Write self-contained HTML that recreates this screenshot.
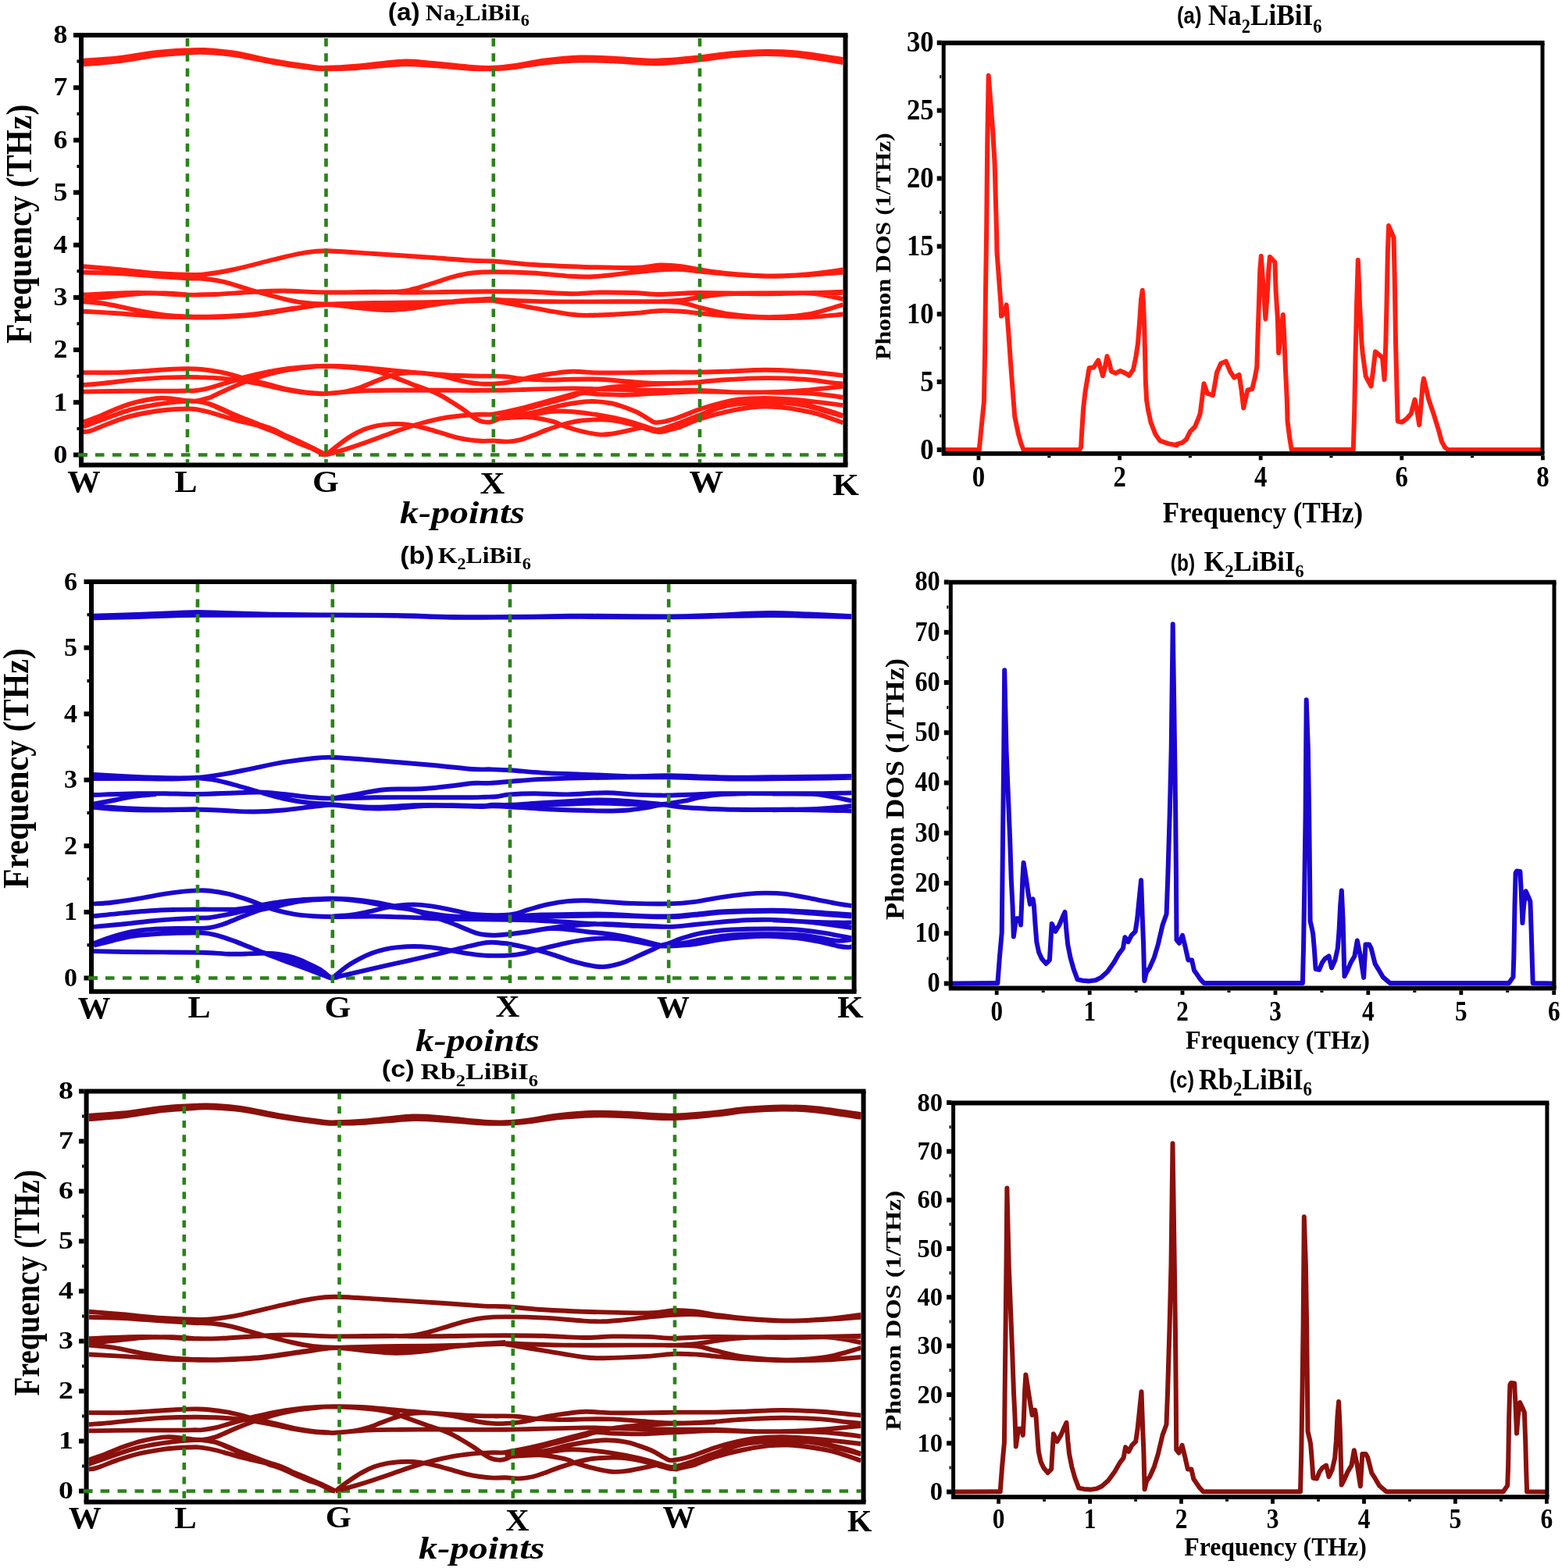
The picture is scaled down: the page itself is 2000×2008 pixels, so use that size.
<!DOCTYPE html>
<html lang="en"><head><meta charset="utf-8"><title>Phonon dispersion and DOS</title>
<style>html,body{margin:0;padding:0;background:#fff}svg{display:block}</style></head>
<body>
<svg xmlns="http://www.w3.org/2000/svg" width="2000" height="2008" viewBox="0 0 2000 2008">
<rect width="2000" height="2008" fill="#fff"/>
<clipPath id="c1"><rect x="107" y="48" width="972.5" height="544.4"/></clipPath>
<path d="M100 582.5H1079.5" stroke="#2a8318" stroke-width="4.6" stroke-dasharray="11.5 10.5" stroke-dashoffset="0" fill="none"/>
<path d="M107 77.6C114.2 77.1 134.5 76.1 150 74.4C165.5 72.6 185 68.8 200 67.2C215 65.5 229.7 64.9 240 64.4C250.3 63.9 252 63.5 262 64C272 64.6 285.3 65.4 300 67.7C314.7 70 333.3 75 350 78C366.7 81 388.8 84.2 400 85.7C411.2 87.2 408.3 86.9 417.5 86.8C426.7 86.7 438.8 86.2 455 84.8C471.2 83.5 498.3 79.2 515 78.6C531.7 78 540 79.8 555 81C570 82.2 592.2 85.1 605 86C617.8 87 622.6 87.1 631.8 86.8C640.9 86.5 649 85.5 660 84C671 82.4 683.8 79.3 697.5 77.5C711.2 75.8 727.9 74 742.5 73.5C757.1 73 768.8 73.9 785 74.6C801.2 75.3 821.5 77.9 840 77.7C858.5 77.5 880.2 75 896 73.4C911.8 71.9 921 69.7 935 68.4C949 67.2 965.4 66 980 65.9C994.6 65.8 1005.9 66 1022.5 67.7C1039.1 69.4 1070 74.6 1079.5 76M107 82.4C114.2 81.8 134.5 80.6 150 78.6C165.5 76.7 185 72.7 200 70.8C215 69 229.7 68.2 240 67.6C250.3 67 252 66.5 262 67C272 67.4 285.3 68.1 300 70.3C314.7 72.5 333.3 77.2 350 80C366.7 82.9 388.8 85.9 400 87.3C411.2 88.6 408.3 88.2 417.5 88.2C426.7 88.2 438.8 88.1 455 87.2C471.2 86.2 498.3 82.9 515 82.4C531.7 81.9 540 83.1 555 84C570 84.9 592.2 87.3 605 88C617.8 88.7 622.6 88.5 631.8 88.2C640.9 87.9 649 87.3 660 86C671 84.7 683.8 81.9 697.5 80.5C711.2 79.1 727.9 77.8 742.5 77.5C757.1 77.2 768.8 77.8 785 78.4C801.2 79 821.5 81.6 840 81.3C858.5 81 880.2 78.2 896 76.6C911.8 75 921 72.8 935 71.6C949 70.3 965.4 69.2 980 69.1C994.6 69 1005.9 69.5 1022.5 71.3C1039.1 73.1 1070 78.5 1079.5 80M107 80C114.2 79.4 134.5 78.3 150 76.5C165.5 74.7 185 70.8 200 69C215 67.2 229.7 66.6 240 66C250.3 65.4 252 65 262 65.5C272 66 285.3 66.8 300 69C314.7 71.2 333.3 76.1 350 79C366.7 81.9 388.8 85.1 400 86.5C411.2 87.9 408.3 87.6 417.5 87.5C426.7 87.4 438.8 87.2 455 86C471.2 84.8 498.3 81.1 515 80.5C531.7 79.9 540 81.4 555 82.5C570 83.6 592.2 86.2 605 87C617.8 87.8 622.6 87.8 631.8 87.5C640.9 87.2 649 86.4 660 85C671 83.6 683.8 80.6 697.5 79C711.2 77.4 727.9 75.9 742.5 75.5C757.1 75.1 768.8 75.8 785 76.5C801.2 77.2 821.5 79.8 840 79.5C858.5 79.2 880.2 76.6 896 75C911.8 73.4 921 71.2 935 70C949 68.8 965.4 67.6 980 67.5C994.6 67.4 1005.9 67.8 1022.5 69.5C1039.1 71.2 1070 76.6 1079.5 78M107 341.2C114.2 341.9 134.5 343.5 150 345C165.5 346.5 185 348.9 200 350C215 351.1 229.6 351.5 240 351.8C250.4 352 252.5 352.4 262.5 351.2C272.5 350.1 285.4 348.1 300 345C314.6 341.9 335.4 336 350 332.5C364.6 329 376.2 326.1 387.5 324.2C398.8 322.4 402.1 321.1 417.5 321.2C432.9 321.4 457.1 323.5 480 325C502.9 326.5 534.2 328.5 555 330C575.8 331.5 592.2 333 605 333.8C617.8 334.5 619.2 333.7 631.8 334.5C644.2 335.3 663.6 337.6 680 338.8C696.4 339.9 708.2 340.5 730 341.2C751.8 342 791.8 343.3 811 343C830.2 342.7 834.8 339.8 845 339.5C855.2 339.2 864 340.2 872.5 341.2C881 342.2 885.8 344 896.2 345.5C906.7 347 920.2 349.2 935 350.5C949.8 351.8 968.3 353.4 985 353.5C1001.7 353.6 1019.2 352.6 1035 351.2C1050.8 349.9 1072.1 346.5 1079.5 345.5M107 348.8C114.2 349 134.5 349.2 150 350C165.5 350.8 185 352.7 200 353.8C215 354.8 229.6 355.7 240 356.2C250.4 356.8 254.6 356.2 262.5 357C270.4 357.8 277.1 358.7 287.5 361.2C297.9 363.8 312.5 369 325 372.5C337.5 376 352.1 380 362.5 382.5C372.9 385 378.3 386.3 387.5 387.5C396.7 388.7 402.1 389.4 417.5 389.5C432.9 389.6 457.1 388.4 480 388C502.9 387.6 529.7 387.6 555 387C580.3 386.4 619 384.9 631.8 384.5M107 377.5C118.3 377.1 152.8 375 175 375C197.2 375 223.3 377.2 240 377.5C256.7 377.8 260.8 377.6 275 377C289.2 376.4 310.4 374.5 325 373.8C339.6 373 347.1 372.4 362.5 372.5C377.9 372.6 397.9 374.3 417.5 374.5C437.1 374.7 461.2 373.8 480 373.8C498.8 373.8 513.3 374.5 530 374.5C546.7 374.5 563 374 580 373.8C597 373.5 615.1 373.2 631.8 373.2C648.4 373.2 663.6 373.2 680 373.8C696.4 374.2 715.4 376.1 730 376.2C744.6 376.4 754 374.7 767.5 374.5C781 374.3 798.1 374.6 811 375C823.9 375.4 830.8 377 845 377C859.2 377 872.9 375.1 896.2 375C919.6 374.9 954.5 376.5 985 376.2C1015.5 376 1063.8 374.2 1079.5 373.8M107 383.8C112.1 383.2 126.2 381.8 137.5 380.5C148.8 379.2 162.5 377.1 175 376.2C187.5 375.4 201.7 375.3 212.5 375.5C223.3 375.7 235.4 377.2 240 377.5M107 386.2C112.1 386.8 126.2 387.6 137.5 389.5C148.8 391.4 162.5 395.1 175 397.5C187.5 399.9 201.7 402.4 212.5 403.8C223.3 405.1 229.6 405.2 240 405.5C250.4 405.8 260.8 406 275 405.5C289.2 405 308.3 404.2 325 402.5C341.7 400.8 359.6 397.1 375 395C390.4 392.9 404.2 390.2 417.5 390C430.8 389.8 442.5 392.6 455 393.8C467.5 394.9 480 396.9 492.5 397C505 397.1 515.4 396.3 530 394.5C544.6 392.7 563 388.2 580 386.2C597 384.2 623.1 383.1 631.8 382.5M107 398.8C114.2 399.2 134.5 400.2 150 401.2C165.5 402.3 185 404.2 200 405C215 405.8 227.5 406 240 406.2C252.5 406.5 260.8 406.8 275 406.2C289.2 405.8 308.3 405 325 403.2C341.7 401.5 359.6 398 375 395.8C390.4 393.5 402.1 390.6 417.5 390C432.9 389.4 452.9 391.5 467.5 392C482.1 392.5 492.5 393.2 505 393C517.5 392.8 530 391.5 542.5 390.5C555 389.5 565.1 388.1 580 387C594.9 385.9 623.1 384.3 631.8 383.8M417.5 374.5C432.1 374.4 486.2 374.5 505 373.8C523.8 373 521.7 371.9 530 370C538.3 368.1 546.7 365.1 555 362.5C563.3 359.9 571.7 356.7 580 354.5C588.3 352.3 596.4 350.5 605 349.5C613.6 348.5 619.2 348.2 631.8 348.2C644.2 348.2 663.6 348.6 680 349.5C696.4 350.4 717.5 352.9 730 353.8C742.5 354.6 746.7 354.7 755 354.5C763.3 354.3 770.7 353.5 780 352.5C789.3 351.5 800.2 349.9 811 348.8C821.8 347.6 834.8 346.1 845 345.5C855.2 344.9 864 344.7 872.5 345C881 345.3 885.8 346.5 896.2 347.5C906.7 348.5 920.2 350.2 935 351.2C949.8 352.3 968.3 353.6 985 353.8C1001.7 353.9 1019.2 352.8 1035 352C1050.8 351.2 1072.1 349.3 1079.5 348.8M631.8 383.8C644 384.2 675.1 385.8 705 386.2C734.9 386.7 787.7 386.2 811 386.2C834.3 386.2 834.8 386.5 845 386.2C855.2 386 864 385.5 872.5 384.5C881 383.5 887.9 381.8 896.2 380.5C904.6 379.2 911.9 377.8 922.5 377C933.1 376.2 933.8 375.8 960 375.5C986.2 375.2 1059.6 375.1 1079.5 375M631.8 385C639.8 386.5 663.6 390.8 680 393.8C696.4 396.7 717.5 400.8 730 402.5C742.5 404.2 741.5 404 755 403.8C768.5 403.5 796 402.2 811 401.2C826 400.3 834.8 398.4 845 398C855.2 397.6 864 398.2 872.5 398.8C881 399.3 885.8 400.2 896.2 401.2C906.7 402.3 920.2 404 935 405C949.8 406 968.3 406.8 985 407C1001.7 407.2 1019.2 407 1035 406.2C1050.8 405.5 1072.1 403.1 1079.5 402.5M845 386.2C849.6 386.5 864 386.2 872.5 387.5C881 388.8 885.8 391.2 896.2 393.8C906.7 396.2 920.2 400.4 935 402.5C949.8 404.6 968.3 406.2 985 406.2C1001.7 406.2 1019.2 405.2 1035 402.5C1050.8 399.8 1072.1 392.1 1079.5 390M985 376.2C993.3 376.1 1022.5 375.1 1035 375.5C1047.5 375.9 1052.6 377.5 1060 378.8C1067.4 380 1076.2 382.3 1079.5 383M106.7 477.1C113.9 477.1 137.1 477.4 149.9 477.1C162.6 476.8 172.1 476 183.2 475.3C194.2 474.6 206.9 473.5 216.4 473C225.9 472.4 233.3 472.1 240.2 472.1C247.1 472.1 250.9 472.2 258 473C265.1 473.7 276 475.3 283 476.6C289.9 477.9 294 479.2 299.6 480.8C305.1 482.3 309.3 484 316.2 485.8C323.1 487.6 332.8 489.5 341.2 491.6C349.5 493.7 357.8 496.4 366.1 498.2C374.4 500 384.1 501.5 391.1 502.4C398 503.3 403.2 503.3 407.7 503.6C412.1 503.8 409.4 504.5 417.8 504.1C426.2 503.6 444.5 501.4 458.2 500.7C471.9 500 484.5 500.1 499.8 499.9C515 499.7 535.8 499.6 549.7 499.6C563.5 499.6 569.3 499.8 583 499.9C596.6 500 617.8 500 631.7 499.9C645.5 499.8 649.2 499.5 666.1 499.1C683 498.6 716.4 497.5 733.1 497.4C749.8 497.3 755.2 498 766.3 498.2C777.4 498.5 785.7 498.8 799.6 499.1C813.4 499.3 833.4 499.8 849.5 499.9C865.6 500 879.9 499.5 896 499.9C912.2 500.3 929.6 502.1 946.3 502.4C963 502.7 982.4 502.3 996.2 501.9C1010.1 501.5 1018.4 500.8 1029.5 499.9C1040.6 499 1054.4 497.4 1062.7 496.6C1071.1 495.7 1076.6 495.2 1079.4 494.9M106.7 492.9C111.1 492.6 123.3 491.7 133.3 490.7C143.2 489.8 155.4 488 166.5 486.9C177.6 485.8 187.5 484.8 199.8 484.1C212.1 483.4 229.1 483 240.2 482.9C251.3 482.8 259.2 483.3 266.3 483.6C273.4 483.9 277.4 484.2 283 484.6C288.5 485 294 485.6 299.6 486.3C305.1 486.9 309.3 487.4 316.2 488.6C323.1 489.8 332.8 491.8 341.2 493.6C349.5 495.3 357.8 497.5 366.1 499.1C374.4 500.6 384.1 502.1 391.1 502.9C398 503.7 403.2 503.9 407.7 504.1C412.1 504.2 412.1 504.5 417.8 504.1C423.4 503.6 434.8 502.7 441.6 501.6C448.3 500.5 452.7 499.2 458.2 497.4C463.8 495.6 469.3 493 474.8 490.7C480.4 488.5 485.9 486 491.5 484.1C497 482.2 502.6 480.2 508.1 479.1C513.7 478 519.2 477.6 524.7 477.4C530.3 477.2 534.4 477.2 541.4 477.9C548.3 478.6 559.4 480.3 566.3 481.6C573.3 482.9 577.4 484.4 583 485.8C588.5 487.1 594 488.6 599.6 489.6C605.1 490.6 610.9 491.2 616.2 491.6C621.6 491.9 626.1 491.9 631.7 491.6C637.2 491.3 643.7 490.7 649.5 489.9C655.2 489.1 660.6 487.8 666.1 486.6C671.7 485.3 675.7 483.8 682.7 482.4C689.7 481 699.7 479.4 708.1 478.3C716.5 477.2 723.4 475.9 733.1 475.8C742.8 475.6 755.2 477.2 766.3 477.4C777.4 477.7 785.7 477.6 799.6 477.4C813.4 477.3 833.4 476.7 849.5 476.6C865.6 476.5 882.7 476.7 896 476.6C909.4 476.5 915.8 476.3 929.7 475.8C943.6 475.3 963 473.8 979.6 473.8C996.2 473.8 1012.8 474.6 1029.5 475.8C1046.1 476.9 1071.1 479.9 1079.4 480.8M106.7 501.6C116.6 501.4 148.2 500.9 166.5 500.7C184.8 500.6 204.1 500.8 216.4 500.7C228.7 500.7 234.7 500.5 240.2 500.4C245.8 500.3 245.3 500.7 249.7 500.2C254 499.7 260.8 498.7 266.3 497.4C271.9 496.1 277.4 494.1 283 492.4C288.5 490.7 294 489.1 299.6 487.4C305.1 485.8 309.3 484.2 316.2 482.4C323.1 480.6 332.8 478.3 341.2 476.6C349.5 474.9 357.8 473.6 366.1 472.5C374.4 471.3 382.4 470.6 391.1 470C399.7 469.3 408 468.8 417.8 468.8C427.6 468.7 439 469 449.9 469.6C460.8 470.2 472.1 471.4 483.2 472.5C494.2 473.5 505.3 474.8 516.4 475.8C527.5 476.8 538.6 477.8 549.7 478.6C560.8 479.4 571.9 480.3 583 480.8C594 481.3 608.1 481.5 616.2 481.6C624.3 481.7 626.1 481.5 631.7 481.6C637.2 481.7 643.7 481.9 649.5 482.4C655.3 483 658.1 484.2 666.5 484.9C674.9 485.6 688.7 486.5 699.8 486.6C710.9 486.7 722 485.9 733.1 485.8C744.1 485.6 755.2 485.3 766.3 485.8C777.4 486.2 788.5 487.4 799.6 488.3C810.7 489.1 821.8 490.3 832.8 490.7C843.9 491.2 855.6 491 866.1 490.7C876.6 490.5 885.5 489.8 896 489.1C906.6 488.3 915.8 487.1 929.7 486.3C943.6 485.4 963 484.2 979.6 484.1C996.2 484 1015.6 484.8 1029.5 485.8C1043.3 486.7 1054.4 488.9 1062.7 489.9C1071.1 490.9 1076.6 491.3 1079.4 491.6M106.7 540.6C109.7 539.5 117.7 536.9 124.9 534C132.2 531.1 141.6 526.4 149.9 523.2C158.2 520 166.5 517 174.8 514.9C183.2 512.7 192.9 511 199.8 510.2C206.7 509.4 209.7 509.7 216.4 510.2C223.2 510.7 234.7 512.6 240.2 513.2C245.8 513.8 245.3 514.3 249.7 513.7C254 513.1 260.8 511.8 266.3 509.9C271.9 508 277.4 504.9 283 502.4C288.5 499.9 294 497.3 299.6 494.9C305.1 492.6 309.3 490.7 316.2 488.3C323.1 485.8 332.8 482.3 341.2 479.9C349.5 477.6 357.8 475.6 366.1 474.1C374.4 472.6 382.4 471.7 391.1 470.8C399.7 469.9 405.2 468.5 417.8 468.8C430.4 469.1 455.1 471.2 466.5 472.5C478 473.8 480.4 474.9 486.5 476.6C492.6 478.3 495.4 479.5 503.1 482.4C510.9 485.3 523.9 490.6 533.1 494.1C542.2 497.5 551.1 500.2 558 503.2C564.9 506.3 569.1 509 574.6 512.4C580.2 515.7 586.3 519.7 591.3 523.2C596.3 526.6 600.7 530.5 604.6 533.2C608.5 535.8 611.5 537.7 614.6 539C617.6 540.2 620 540.6 622.9 540.6C625.7 540.7 627.2 541.1 631.7 539.5C636.2 537.8 644.1 533 649.9 530.7C655.7 528.4 658.2 528 666.5 525.7C674.8 523.3 688.7 519.6 699.8 516.5C710.9 513.5 725.3 509.6 733.1 507.4C740.8 505.2 740.8 503.6 746.4 503.2C751.9 502.8 757.4 504.5 766.3 504.9C775.2 505.3 788.5 505.9 799.6 505.7C810.7 505.6 821.8 504.6 832.8 504.1C843.9 503.5 855.6 502.9 866.1 502.4C876.6 501.9 882.7 501.2 896 501.2C909.4 501.2 932.4 502.2 946.3 502.4C960.2 502.6 965.7 502.3 979.6 502.4C993.4 502.5 1015.6 502.5 1029.5 503.2C1043.3 503.9 1054.4 505.6 1062.7 506.5C1071.1 507.5 1076.6 508.6 1079.4 509M106.7 546.5C111.1 544.8 123.3 540.1 133.3 536.5C143.2 532.9 155.4 527.9 166.5 524.8C177.6 521.8 190.1 519.9 199.8 518.2C209.5 516.5 218 515.6 224.7 514.9C231.5 514.1 236 513.9 240.2 513.7C244.4 513.5 245.3 513.2 249.7 513.7C254 514.2 260.8 514.9 266.3 516.5C271.9 518.1 277.4 520.8 283 523.2C288.5 525.5 294 528.3 299.6 530.7C305.1 533 310.7 535.1 316.2 537.3C321.8 539.5 327.3 541.9 332.8 544C338.4 546 343.9 547.4 349.5 549.8C355 552.1 360.6 555.3 366.1 558.1C371.7 560.9 377.2 563.8 382.7 566.4C388.3 569.1 394.4 571.4 399.4 573.9C404.4 576.4 409.7 580 412.7 581.4C415.7 582.8 416.7 582.3 417.5 582.5M417.5 582.5C420.1 580.4 427.9 573.8 433.3 569.8C438.7 565.7 444.4 561.4 449.9 558.1C455.4 554.8 461 552 466.5 549.8C472.1 547.6 477.6 546.2 483.2 545.1C488.7 544 494.2 543.5 499.8 543.1C505.3 542.8 510.9 542.7 516.4 543.1C522 543.6 527.5 544.5 533.1 545.6C538.6 546.7 544.1 548.3 549.7 549.8C555.2 551.3 560.8 553.1 566.3 554.8C571.9 556.4 577.4 558.4 583 559.8C588.5 561.2 594 562.3 599.6 563.1C605.1 563.9 610.9 564.5 616.2 564.8C621.6 565 626.1 564.3 631.7 564.4C637.3 564.6 644.1 565.8 649.9 565.6C655.7 565.4 661 564.5 666.5 563.1C672.1 561.7 677.6 559.4 683.2 557.3C688.7 555.2 693.7 552.8 699.8 550.6C705.9 548.4 712.8 545.9 719.8 544C726.7 542 733.6 540.1 741.4 539C749.1 537.9 759.4 537.5 766.3 537.3C773.3 537.2 776 537.2 783 538.1C789.9 539.1 801 541.5 807.9 543.1C814.8 544.8 819.5 546.6 824.5 548.1C829.5 549.7 834.2 551.7 837.8 552.3C841.4 552.8 841.4 553 846.2 551.5C850.9 549.9 857.8 546.5 866.1 543.1C874.4 539.8 885.5 535.7 896 531.5C906.6 527.3 918.5 521.1 929.7 518.2C940.8 515.3 951.9 514.7 963 514C974 513.3 985.1 513.3 996.2 514C1007.3 514.7 1018.4 516.1 1029.5 518.2C1040.6 520.3 1054.4 524.2 1062.7 526.5C1071.1 528.9 1076.6 531.4 1079.4 532.3M106.7 553.1C108.3 552.8 110.8 553.4 116.6 551.5C122.5 549.5 133.3 544.5 141.6 541.5C149.9 538.4 156.8 535.7 166.5 533.2C176.2 530.7 190.1 528 199.8 526.5C209.5 525 218 524.5 224.7 524C231.5 523.5 236 523.5 240.2 523.5C244.4 523.5 245.3 523.4 249.7 524C254 524.7 260.8 526 266.3 527.3C271.9 528.7 277.4 530.7 283 532.3C288.5 534 294 535.8 299.6 537.3C305.1 538.8 310.7 540.1 316.2 541.5C321.8 542.9 327.3 544 332.8 545.6C338.4 547.3 342.6 548.8 349.5 551.5C356.4 554.1 366.1 557.8 374.4 561.4C382.7 565 392.2 569.6 399.4 573.1C406.6 576.6 414.5 580.9 417.5 582.5M417.5 582.5C421.5 581.3 433.4 578.1 441.6 575.6C449.8 573 458.2 570.2 466.5 567.3C474.8 564.3 483.2 561.2 491.5 558.1C499.8 555.1 508.1 551.7 516.4 549C524.7 546.2 533.1 543.7 541.4 541.5C549.7 539.3 559.4 537 566.3 535.7C573.3 534.3 577.4 533.9 583 533.2C588.5 532.5 594 531.9 599.6 531.5C605.1 531.1 610.9 530.9 616.2 530.7C621.6 530.5 623.3 531.6 631.7 530.3C640.1 529.1 655.2 525.9 666.5 523.2C677.9 520.5 688.7 517.1 699.8 514C710.9 511 724.7 507.1 733.1 504.9C741.4 502.7 744.1 501.8 749.7 500.7C755.2 499.6 760.8 499.1 766.3 498.2C771.9 497.4 774.6 496.6 783 495.7C791.3 494.9 805.1 493.9 816.2 493.2C827.3 492.6 836.2 492.1 849.5 491.6C862.8 491 888.3 490.2 896 489.9M631.6 537.3C634.7 536.8 641.3 535.5 649.9 534C658.5 532.5 673.5 530.2 683.2 528.2C692.9 526.1 699.8 523.5 708.1 521.5C716.4 519.6 724.7 517.8 733.1 516.5C741.4 515.3 749.7 514 758 514C766.3 514 776 515.3 783 516.5C789.9 517.8 794 519.6 799.6 521.5C805.1 523.5 810.7 525.4 816.2 528.2C821.8 530.9 828.7 536 832.8 538.1C837 540.3 836.1 541.4 841.2 541.1C846.2 540.9 854 539.3 863.2 536.5C872.3 533.6 886.4 527.3 896.1 524C905.8 520.7 913 518.6 921.4 516.5C929.7 514.4 936.6 512.6 946.3 511.5C956 510.4 968.5 509.9 979.6 509.9C990.7 509.9 1001.8 510.7 1012.8 511.5C1023.9 512.4 1035 513.6 1046.1 514.9C1057.2 516.1 1073.8 518.3 1079.4 519M631.6 536.5C638.8 535.7 662.1 533.1 674.8 531.5C687.6 529.9 698.4 527.5 708.1 526.8C717.8 526.1 723.4 526.6 733.1 527.3C742.8 528.1 755.2 529.7 766.3 531.5C777.4 533.3 789.9 535.8 799.6 538.1C809.3 540.5 818.2 543.7 824.5 545.6C830.9 547.6 834.2 549.1 837.8 549.8C841.4 550.5 841.4 550.9 846.2 549.8C850.9 548.7 857.8 546.2 866.1 543.1C874.4 540.1 885.5 535.4 896 531.5C906.6 527.6 918.5 522.5 929.7 519.9C940.8 517.2 951.9 516.5 963 515.7C974 514.9 985.1 514.6 996.2 515.2C1007.3 515.8 1018.4 516.9 1029.5 519C1040.6 521.2 1054.4 525.8 1062.7 528.2C1071.1 530.5 1076.6 532.3 1079.4 533.2M631.6 536.5C638.8 536.1 662.1 533.4 674.8 534C687.6 534.5 700.6 538 708.1 539.8C715.6 541.6 714.2 542.9 719.8 544.8C725.3 546.7 733.6 549.5 741.4 551.5C749.1 553.4 759.4 555.8 766.3 556.4C773.3 557.1 776 556.6 783 555.6C789.9 554.6 801 552 807.9 550.6C814.8 549.2 819.5 547.2 824.5 547.3C829.5 547.4 834.2 550.5 837.8 551.5C841.5 552.4 841.8 553.7 846.5 553.1C851.2 552.6 862 549.2 866.1 548.1C870.3 547 866.5 548.4 871.5 546.5C876.5 544.5 886.4 539.7 896.1 536.5C905.8 533.3 918.5 529.8 929.7 527.3C940.8 524.8 953.3 522.6 963 521.5C972.7 520.4 979.6 520.4 987.9 520.7C996.2 521 1003.1 521.7 1012.8 523.2C1022.6 524.7 1035 526.8 1046.1 529.8C1057.2 532.9 1073.8 539.5 1079.4 541.5M249.7 513.7C252.5 514.2 260.8 515.1 266.3 516.9C271.9 518.6 277.4 521.5 283 524C288.5 526.5 294 529.3 299.6 531.8C305.1 534.3 310.7 536.6 316.2 539C321.8 541.4 327.3 543.9 332.8 546.1C338.4 548.4 343.9 550 349.5 552.3C355 554.6 360.6 557.5 366.1 560.1C371.7 562.7 377.2 565.4 382.7 567.8C388.3 570.1 394.4 572.1 399.4 574.4C404.4 576.7 409.7 580 412.7 581.4C415.7 582.7 416.7 582.3 417.5 582.5" stroke="#ff1d10" stroke-width="5.9" fill="none" stroke-linejoin="round" stroke-linecap="butt" clip-path="url(#c1)"/>
<path d="M240 48V592.4" stroke="#2a8318" stroke-width="4.6" stroke-dasharray="10.5 8.75" stroke-dashoffset="-1" fill="none"/>
<path d="M417.5 48V592.4" stroke="#2a8318" stroke-width="4.6" stroke-dasharray="10.5 8.75" stroke-dashoffset="-1" fill="none"/>
<path d="M631.8 48V592.4" stroke="#2a8318" stroke-width="4.6" stroke-dasharray="10.5 8.75" stroke-dashoffset="-1" fill="none"/>
<path d="M896 48V592.4" stroke="#2a8318" stroke-width="4.6" stroke-dasharray="10.5 8.75" stroke-dashoffset="-1" fill="none"/>
<path d="M101 45H1085.5M101 595.4H1085.5" fill="none" stroke="#000" stroke-width="6"/>
<path d="M104 45V595.4M1082.5 45V595.4" fill="none" stroke="#000" stroke-width="6"/>
<path d="M94 582.5H101M94 515.3H101M94 448.1H101M94 380.9H101M94 313.7H101M94 246.6H101M94 179.4H101M94 112.2H101M94 45H101" stroke="#000" stroke-width="6" fill="none"/>
<path d="M98.5 548.9H101M98.5 481.7H101M98.5 414.5H101M98.5 347.3H101M98.5 280.1H101M98.5 213H101M98.5 145.8H101M98.5 78.6H101" stroke="#000" stroke-width="4" fill="none"/>
<path d="M100 582.5H112" stroke="#2a8318" stroke-width="4.6" fill="none"/>
<text transform="translate(86.3 592.7) scale(1.085 1.000)" font-family="'Liberation Serif', 'DejaVu Serif', serif" font-size="33" font-weight="bold" text-anchor="end" fill="#000">0</text>
<text transform="translate(86.3 525.5) scale(1.085 1.000)" font-family="'Liberation Serif', 'DejaVu Serif', serif" font-size="33" font-weight="bold" text-anchor="end" fill="#000">1</text>
<text transform="translate(86.3 458.3) scale(1.085 1.000)" font-family="'Liberation Serif', 'DejaVu Serif', serif" font-size="33" font-weight="bold" text-anchor="end" fill="#000">2</text>
<text transform="translate(86.3 391.1) scale(1.085 1.000)" font-family="'Liberation Serif', 'DejaVu Serif', serif" font-size="33" font-weight="bold" text-anchor="end" fill="#000">3</text>
<text transform="translate(86.3 323.9) scale(1.085 1.000)" font-family="'Liberation Serif', 'DejaVu Serif', serif" font-size="33" font-weight="bold" text-anchor="end" fill="#000">4</text>
<text transform="translate(86.3 256.7) scale(1.085 1.000)" font-family="'Liberation Serif', 'DejaVu Serif', serif" font-size="33" font-weight="bold" text-anchor="end" fill="#000">5</text>
<text transform="translate(86.3 189.5) scale(1.085 1.000)" font-family="'Liberation Serif', 'DejaVu Serif', serif" font-size="33" font-weight="bold" text-anchor="end" fill="#000">6</text>
<text transform="translate(86.3 122.3) scale(1.085 1.000)" font-family="'Liberation Serif', 'DejaVu Serif', serif" font-size="33" font-weight="bold" text-anchor="end" fill="#000">7</text>
<text transform="translate(86.3 55.1) scale(1.085 1.000)" font-family="'Liberation Serif', 'DejaVu Serif', serif" font-size="33" font-weight="bold" text-anchor="end" fill="#000">8</text>
<text id="ylab1" transform="translate(40.4 440) rotate(-90) scale(0.9039 1.0000)" font-family="'Liberation Serif', 'DejaVu Serif', serif" font-size="46.2" font-weight="bold" fill="#000">Frequency (THz)</text>
<text transform="translate(107.5 630) scale(1.050 1.000)" font-family="'Liberation Serif', 'DejaVu Serif', serif" font-size="40.4" font-weight="bold" text-anchor="middle" fill="#000">W</text>
<text transform="translate(238 629.5) scale(1.080 1.000)" font-family="'Liberation Serif', 'DejaVu Serif', serif" font-size="40.4" font-weight="bold" text-anchor="middle" fill="#000">L</text>
<text transform="translate(417 629.5) scale(1.080 1.000)" font-family="'Liberation Serif', 'DejaVu Serif', serif" font-size="40.4" font-weight="bold" text-anchor="middle" fill="#000">G</text>
<text transform="translate(630.4 632.2) scale(1.080 1.000)" font-family="'Liberation Serif', 'DejaVu Serif', serif" font-size="40.8" font-weight="bold" text-anchor="middle" fill="#000">X</text>
<text transform="translate(904.4 629.5) scale(1.080 1.000)" font-family="'Liberation Serif', 'DejaVu Serif', serif" font-size="40.4" font-weight="bold" text-anchor="middle" fill="#000">W</text>
<text transform="translate(1083 633.5) scale(1.080 1.000)" font-family="'Liberation Serif', 'DejaVu Serif', serif" font-size="40.4" font-weight="bold" text-anchor="middle" fill="#000">K</text>
<text id="kp1" transform="translate(512 670.2) scale(1.1704 1.0000)" font-family="'Liberation Serif', 'DejaVu Serif', serif" font-size="41" font-weight="bold" font-style="italic" fill="#000">k-points</text>
<text id="ta1" transform="translate(496.8 26) scale(1.0432 1.0000)" font-family="'Liberation Sans', 'DejaVu Sans', sans-serif" font-size="32" font-weight="bold" fill="#000">(a)</text>
<text id="tf1" transform="translate(544.8 25.6) scale(1.0743 1.0000)" font-family="'Liberation Serif', 'DejaVu Serif', serif" font-size="29.5" font-weight="bold" fill="#000">Na<tspan font-size="20.6" dy="7.4">2</tspan><tspan font-size="29.5" dy="-7.4">LiBiI</tspan><tspan font-size="20.6" dy="7.4">6</tspan></text>
<path d="M1208.4 576L1253.7 576.1L1257.7 536.2L1259.9 514.5L1261 456.3L1262 373.2L1263.2 290L1264.2 184.7L1265.7 96.8L1271.1 166L1273.6 209.7L1276.1 300L1276.5 323.3L1279 356.5L1281.5 389.8L1282 404.8L1285.2 401.8L1288.6 390.3L1289.8 406.4L1292.3 439.7L1294 464.6L1296.5 497.9L1299.3 533.7L1304 556.1L1307.3 567.8L1310.6 576.1L1382.1 576.1L1384.1 572.7L1385.4 549.5L1387.1 522.8L1389.6 501.2L1392.1 486.3L1394.6 471.3L1400.4 470.5L1406.2 461.3L1408.7 469.6L1412.1 481.3L1414.6 471.3L1417.5 456.3L1420.4 464.6L1422.9 475.4L1428.7 477.9L1434.5 474.9L1441.2 477.9L1445.8 480.9L1451.1 473L1454.5 456.3L1457 439.7L1459.5 406.4L1461.1 383.1L1462.8 371.8L1464.1 389.8L1465.3 423.1L1466.1 456.3L1466.9 489.6L1468.1 512.5L1470.3 526.2L1473.6 541.1L1479.4 556.1L1485.2 564.4L1496 568.1L1506.9 570.2L1506.8 568.9L1513.7 566.9L1518.8 562.9L1523.9 552.7L1529.9 546.7L1534.2 536.5L1536.7 529.6L1539.3 509.1L1541.5 491.2L1546.1 504L1553 506.2L1555.5 492L1558.1 476.7L1563.2 465.6L1569.7 462.7L1575.2 475.8L1580.3 483.5L1586.6 479.8L1589.7 500.6L1592.2 522.5L1597.4 499.7L1603.3 498L1606.8 483.5L1609.3 469.8L1610.7 423.7L1611.9 389.6L1613.2 346.9L1614.8 328.1L1617.9 372.5L1620.4 408.4L1623 372.5L1624.3 346.9L1625.9 328.9L1632.4 335.8L1633.6 372.5L1635.8 406.6L1637.2 451.9L1640.1 423.7L1642.8 402.9L1644.3 432.3L1646 475L1647.7 509.1L1648.6 539.9L1651.2 560.4L1653.7 575.7L1732.8 575.7L1734.2 526.2L1735.5 457.9L1737.1 389.6L1738.8 332.9L1741 389.6L1743.6 440.8L1744.8 452.8L1748.7 481.8L1755.5 494.6L1758.1 475L1761 450.2L1770 457.9L1772.6 486.1L1774.3 440.8L1775.5 389.6L1776.9 321.2L1778.1 289.1L1784.5 304.2L1785.7 355.4L1787.1 440.8L1788.8 509.1L1789.7 539.5L1794.8 540.7L1800.8 536.5L1806.8 529.6L1811.5 511.7L1814.4 526.2L1817.2 544.1L1819.6 517.7L1821.6 492L1823 484.9L1826.4 498.9L1829 510.8L1834.9 527.9L1841.8 550.1L1846 565.5L1850.3 573.2L1853.7 575.7L1975 576" stroke="#ff1d10" stroke-width="6" fill="none" stroke-linejoin="round" stroke-linecap="butt"/>
<path d="M1205.7 55H1977.5M1205.7 580.8H1977.5" fill="none" stroke="#000" stroke-width="5.8"/>
<path d="M1208.2 55V580.8M1975 55V580.8" fill="none" stroke="#000" stroke-width="5"/>
<path d="M1199.7 576H1205.7M1199.7 489.1H1205.7M1199.7 402.2H1205.7M1199.7 315.4H1205.7M1199.7 228.5H1205.7M1199.7 141.6H1205.7M1199.7 54.8H1205.7" stroke="#000" stroke-width="6" fill="none"/>
<path d="M1203.2 532.6H1205.2M1203.2 445.7H1205.2M1203.2 358.8H1205.2M1203.2 271.9H1205.2M1203.2 185.1H1205.2M1203.2 98.2H1205.2" stroke="#000" stroke-width="4" fill="none"/>
<path d="M1253 583.7V589.3M1433.6 583.7V589.3M1614.2 583.7V589.3M1794.8 583.7V589.3M1975.4 583.7V589.3" stroke="#000" stroke-width="4.8" fill="none"/>
<path d="M1343.3 583.8V586.3M1523.9 583.8V586.3M1704.5 583.8V586.3M1885.1 583.8V586.3" stroke="#000" stroke-width="4" fill="none"/>
<text transform="translate(1195.5 587.5) scale(0.935 1.000)" font-family="'Liberation Serif', 'DejaVu Serif', serif" font-size="37" font-weight="bold" text-anchor="end" fill="#000">0</text>
<text transform="translate(1195.5 500.6) scale(0.935 1.000)" font-family="'Liberation Serif', 'DejaVu Serif', serif" font-size="37" font-weight="bold" text-anchor="end" fill="#000">5</text>
<text transform="translate(1195.5 413.8) scale(0.935 1.000)" font-family="'Liberation Serif', 'DejaVu Serif', serif" font-size="37" font-weight="bold" text-anchor="end" fill="#000">10</text>
<text transform="translate(1195.5 326.9) scale(0.935 1.000)" font-family="'Liberation Serif', 'DejaVu Serif', serif" font-size="37" font-weight="bold" text-anchor="end" fill="#000">15</text>
<text transform="translate(1195.5 240) scale(0.935 1.000)" font-family="'Liberation Serif', 'DejaVu Serif', serif" font-size="37" font-weight="bold" text-anchor="end" fill="#000">20</text>
<text transform="translate(1195.5 153.1) scale(0.935 1.000)" font-family="'Liberation Serif', 'DejaVu Serif', serif" font-size="37" font-weight="bold" text-anchor="end" fill="#000">25</text>
<text transform="translate(1195.5 66.3) scale(0.935 1.000)" font-family="'Liberation Serif', 'DejaVu Serif', serif" font-size="37" font-weight="bold" text-anchor="end" fill="#000">30</text>
<text transform="translate(1253 622.7) scale(0.850 1.000)" font-family="'Liberation Serif', 'DejaVu Serif', serif" font-size="38.6" font-weight="bold" text-anchor="middle" fill="#000">0</text>
<text transform="translate(1433.6 622.7) scale(0.850 1.000)" font-family="'Liberation Serif', 'DejaVu Serif', serif" font-size="38.6" font-weight="bold" text-anchor="middle" fill="#000">2</text>
<text transform="translate(1614.2 622.7) scale(0.850 1.000)" font-family="'Liberation Serif', 'DejaVu Serif', serif" font-size="38.6" font-weight="bold" text-anchor="middle" fill="#000">4</text>
<text transform="translate(1794.8 622.7) scale(0.850 1.000)" font-family="'Liberation Serif', 'DejaVu Serif', serif" font-size="38.6" font-weight="bold" text-anchor="middle" fill="#000">6</text>
<text transform="translate(1975.4 622.7) scale(0.850 1.000)" font-family="'Liberation Serif', 'DejaVu Serif', serif" font-size="38.6" font-weight="bold" text-anchor="middle" fill="#000">8</text>
<text id="ylab2" transform="translate(1139.7 461) rotate(-90) scale(1.1217 1.0000)" font-family="'Liberation Serif', 'DejaVu Serif', serif" font-size="28.3" font-weight="bold" fill="#000">Phonon DOS (1/THz)</text>
<text id="xlab2" transform="translate(1488.8 668.8) scale(0.9092 1.0000)" font-family="'Liberation Serif', 'DejaVu Serif', serif" font-size="38.4" font-weight="bold" fill="#000">Frequency (THz)</text>
<text id="ta2" transform="translate(1507 30) scale(0.8590 1.0000)" font-family="'Liberation Sans', 'DejaVu Sans', sans-serif" font-size="30" font-weight="bold" fill="#000">(a)</text>
<text id="tf2" transform="translate(1546.7 31.8) scale(0.9147 1.0000)" font-family="'Liberation Serif', 'DejaVu Serif', serif" font-size="38.5" font-weight="bold" fill="#000">Na<tspan font-size="24.6" dy="10">2</tspan><tspan font-size="38.5" dy="-10">LiBiI</tspan><tspan font-size="24.6" dy="10">6</tspan></text>
<clipPath id="c3"><rect x="120" y="748" width="970.6" height="518.7"/></clipPath>
<path d="M113 1252.5H1090.6" stroke="#2a8318" stroke-width="4.6" stroke-dasharray="11.5 10.5" stroke-dashoffset="0" fill="none"/>
<path d="M120 788.8C129.2 788.5 157.5 787.6 175 787C192.5 786.4 212 785.5 225 785C238 784.5 242.6 784 253 784C263.4 784 271.3 784.5 287.5 785C303.7 785.5 327 786.3 350 786.8C373 787.2 399.9 787.3 425.8 787.5C451.6 787.7 479.3 787.6 505 788C530.7 788.4 555.3 789.7 580 790C604.7 790.3 628 790.2 653 790C678 789.8 712.2 789 730 788.8C747.8 788.5 739 788.6 760 788.8C781 788.9 831.2 789.6 856.2 789.5C881.2 789.4 888.5 788.8 910 788C931.5 787.2 964.2 785.2 985 785C1005.8 784.8 1017.4 785.8 1035 786.5C1052.6 787.2 1081.2 788.8 1090.5 789.2M120 791.2C129.2 791 157.5 790.5 175 790C192.5 789.5 212 788.6 225 788.2C238 787.9 242.6 787.8 253 787.8C263.4 787.7 271.3 787.8 287.5 787.8C303.7 787.8 327 787.8 350 787.8C373 787.8 399.9 787.6 425.8 787.8C451.6 787.9 479.3 788 505 788.5C530.7 789 555.3 790.4 580 790.8C604.7 791.1 628 790.7 653 790.5C678 790.3 712.2 789.8 730 789.8C747.8 789.7 739 789.9 760 790C781 790.1 831.2 790.3 856.2 790.2C881.2 790.2 888.5 789.9 910 789.5C931.5 789.1 964.2 788.1 985 788C1005.8 787.9 1017.4 788.4 1035 788.8C1052.6 789.1 1081.2 789.8 1090.5 790M120 992C129.2 992.5 159.6 994.3 175 995C190.4 995.7 199.5 996.1 212.5 996.2C225.5 996.4 240.5 996.6 253 995.8C265.5 994.9 275.5 993.2 287.5 991.2C299.5 989.2 312.5 986.2 325 983.8C337.5 981.2 350 978.3 362.5 976.2C375 974.2 389.5 972.3 400 971.2C410.5 970.2 412.4 969.6 425.8 970C439.1 970.4 458.5 972.1 480 973.8C501.5 975.4 534.2 978.1 555 980C575.8 981.9 593.1 984.1 605 985C616.9 985.9 618.6 985.1 626.6 985.3C634.6 985.5 641.8 985.6 652.9 986.3C664 987 678.1 988.7 693.2 989.6C708.2 990.5 729.2 991 743.1 991.6C756.9 992.2 765.2 992.5 776.3 992.9C787.4 993.3 796.2 994 809.6 994.1C822.9 994.2 843.1 993.2 856.5 993.3C869.9 993.3 875.9 993.9 889.8 994.3C903.7 994.7 923.1 995.4 939.7 995.6C956.3 995.8 973 995.4 989.6 995.3C1006.2 995.1 1022.6 995 1039.5 994.8C1056.3 994.5 1082.2 994.1 1090.7 993.9M120 997C129.2 997 159.6 996.9 175 997C190.4 997.1 199.5 997.6 212.5 997.5C225.5 997.4 246.2 996.5 253 996.2M120 1018C129.2 1017.7 159.6 1016.5 175 1016.2C190.4 1016 199.5 1016.1 212.5 1016.2C225.5 1016.4 238.4 1017.1 253 1017C267.6 1016.9 286.8 1015.9 300 1015.5C313.2 1015.1 322.1 1014.2 332.5 1014.5C342.9 1014.8 351.2 1015.9 362.5 1017C373.8 1018.1 389.5 1020.3 400 1021.2C410.5 1022.2 421.5 1022.3 425.8 1022.5M120 1029.5C124.2 1028.8 136.7 1026.6 145 1025C153.3 1023.4 160.8 1021.3 170 1020C179.2 1018.7 195 1017.5 200 1017M120 1033.8C125 1034.2 136.7 1035.6 150 1036.2C163.3 1036.9 182.8 1037.4 200 1037.5C217.2 1037.6 238.4 1036.7 253 1036.8C267.6 1036.8 275.5 1037.5 287.5 1038C299.5 1038.5 312.5 1039.6 325 1039.5C337.5 1039.4 350 1038.6 362.5 1037.5C375 1036.4 389.5 1034.2 400 1033C410.5 1031.8 421.5 1030.9 425.8 1030.5M120 1031.2C125 1031.8 136.7 1033.6 150 1034.5C163.3 1035.4 182.8 1036.2 200 1036.5C217.2 1036.8 244.2 1036.3 253 1036.2M253 996.2C256.7 996.7 267.2 997.3 275 998.8C282.8 1000.2 290.4 1002.4 300 1005C309.6 1007.6 322.1 1011.6 332.5 1014.5C342.9 1017.4 352.1 1020.2 362.5 1022.5C372.9 1024.8 384.5 1026.8 395 1028C405.5 1029.2 420.6 1029.7 425.8 1030M425.8 1022.5C430.6 1021.7 443.9 1019.4 455 1017.5C466.1 1015.6 477.9 1012.5 492.5 1011.2C507.1 1010 527.9 1010.8 542.5 1010C557.1 1009.2 569.6 1007.4 580 1006.2C590.4 1005.1 597.2 1003.6 605 1003C612.8 1002.4 618.6 1003.3 626.6 1002.9C634.6 1002.5 641.8 1001.6 652.9 1000.7C664 999.9 678.1 998.7 693.2 997.9C708.2 997.2 729.2 996.6 743.1 996.3C756.9 995.9 765.2 995.9 776.3 995.8C787.4 995.6 796.2 995.3 809.6 995.3C822.9 995.2 843.1 995.1 856.5 995.3C869.9 995.4 875.9 995.9 889.8 996.3C903.7 996.6 923.1 997.4 939.7 997.6C956.3 997.8 973 997.4 989.6 997.3C1006.2 997.1 1022.6 997 1039.5 996.8C1056.3 996.5 1082.2 996.1 1090.7 995.9M425.8 1022.5C434.8 1022.3 458.5 1021.5 480 1021.2C501.5 1021 534.2 1021.2 555 1021.2C575.8 1021.2 594.2 1021.3 605 1021.2C615.8 1021.2 615 1020.9 620 1020.7C625 1020.5 629.5 1020.8 634.9 1020.2C640.4 1019.7 644.6 1018 652.9 1017.4C661.2 1016.7 672.6 1016.2 684.8 1016.2C697.1 1016.2 711.2 1017.5 726.4 1017.4C741.7 1017.2 762.5 1015.2 776.3 1015.2C790.2 1015.2 798.5 1016.8 809.6 1017.4C820.7 1017.9 835 1018.4 842.8 1018.5C850.7 1018.7 848.7 1018.7 856.5 1018.5C864.3 1018.4 878.7 1017.8 889.8 1017.4C900.9 1017 906.4 1016.4 923.1 1016.2C939.7 1016 970.2 1016.2 989.6 1016.2C1009 1016.2 1022.6 1016.4 1039.5 1016.2C1056.3 1016.1 1082.2 1015.5 1090.7 1015.4M989.6 1016.5C997.9 1016.6 1027 1016.3 1039.5 1016.9C1052 1017.5 1055.9 1018.7 1064.4 1020.2C1073 1021.7 1086.3 1024.8 1090.7 1025.7M425.8 1030.5C434.8 1031 462.6 1033.6 480 1033.8C497.4 1033.9 513.3 1031.7 530 1031.2C546.7 1030.8 565.4 1031.1 580 1031.2C594.6 1031.4 609.2 1032.1 617.5 1032C625.8 1031.9 624.1 1030.9 630 1030.7C635.9 1030.5 642.4 1031.1 652.9 1030.7C663.4 1030.3 678.1 1029.1 693.2 1028.2C708.2 1027.3 730.6 1025.8 743.1 1025.2C755.5 1024.6 759.7 1024.5 768 1024.5C776.3 1024.5 783.3 1024.6 793 1025.2C802.7 1025.8 817.3 1027.1 826.2 1027.9C835.1 1028.6 841.1 1029.7 846.2 1029.9C851.2 1030 851.5 1029.7 856.5 1029C861.5 1028.3 869.5 1027 876.1 1025.7C882.7 1024.4 888.2 1022.6 896.1 1021.2C903.9 1019.8 913 1018.2 923.1 1017.4C933.1 1016.6 950.8 1016.7 956.3 1016.5M425.8 1030.5C432.7 1031.2 454.3 1034.2 467.5 1035C480.7 1035.8 492.5 1035.5 505 1035C517.5 1034.5 530 1032.5 542.5 1032C555 1031.5 567.5 1031.8 580 1032C592.5 1032.2 609.2 1032.9 617.5 1033C625.8 1033.1 624.1 1032.3 630 1032.3C635.9 1032.4 642.4 1032.6 652.9 1033.2C663.4 1033.7 678.1 1034.9 693.2 1035.7C708.2 1036.5 729.2 1037.4 743.1 1037.8C756.9 1038.3 766.6 1038.5 776.3 1038.5C786 1038.5 793 1038.5 801.3 1037.8C809.6 1037.2 818.7 1035.7 826.2 1034.5C833.7 1033.3 841.1 1031.2 846.2 1030.7C851.2 1030.2 851.5 1031 856.5 1031.5C861.5 1032.1 867.8 1033.3 876.1 1034C884.4 1034.7 895.8 1035.2 906.4 1035.7C917 1036.1 925.8 1036.6 939.7 1036.8C953.5 1037 973 1037 989.6 1036.8C1006.2 1036.7 1025.6 1036.6 1039.5 1036.2C1053.3 1035.7 1064.2 1034.7 1072.7 1034C1081.3 1033.3 1087.7 1032.2 1090.7 1031.9M652.9 1031.5C662.4 1031.3 690.6 1030.7 709.8 1030.2C729 1029.7 751.4 1028.6 768 1028.5C784.6 1028.5 796.6 1029.6 809.6 1029.9C822.6 1030.1 840.1 1030.1 846.2 1030.2M989.6 1037.2C997.9 1037.2 1022.6 1037 1039.5 1037.2C1056.3 1037.4 1082.2 1038.3 1090.7 1038.5M120 1157.4C123.9 1157.1 133.8 1156.9 143.3 1155.7C152.7 1154.6 165.4 1152.6 176.5 1150.8C187.6 1149 200.1 1146.5 209.8 1144.9C219.5 1143.4 227.5 1142.4 234.7 1141.6C241.9 1140.9 247.5 1140.6 253 1140.4C258.6 1140.3 261.4 1140 268 1140.8C274.7 1141.5 284.6 1143 293 1144.9C301.3 1146.9 311 1150.1 317.9 1152.4C324.8 1154.7 329 1156.5 334.5 1158.6C340.1 1160.7 344.2 1162.9 351.2 1164.9C358.1 1166.9 367.8 1169.3 376.1 1170.7C384.4 1172.1 392.8 1172.7 401.1 1173.2C409.3 1173.8 413.1 1174 425.7 1174C438.3 1174.1 459.7 1173.4 476.5 1173.5C493.3 1173.7 509.8 1174.3 526.4 1174.9C543.1 1175.4 555.3 1176.4 576.3 1176.9C597.4 1177.4 633.4 1177.5 652.8 1177.9C672.3 1178.2 679.5 1178.4 693.2 1179C706.8 1179.6 720.9 1180.7 734.7 1181.5C748.6 1182.4 763.8 1183.3 776.3 1184C788.8 1184.7 796.2 1185.2 809.6 1185.7C822.9 1186.2 843.1 1187.1 856.5 1186.9C869.9 1186.6 878.7 1185 889.8 1184C900.9 1183 912 1181.7 923.1 1180.7C934.1 1179.7 945.2 1178.7 956.3 1178.2C967.4 1177.7 978.5 1177.6 989.6 1177.9C1000.7 1178.1 1011.8 1179 1022.8 1179.9C1033.9 1180.8 1044.8 1181.8 1056.1 1183.2C1067.4 1184.6 1084.9 1187.3 1090.7 1188.2M120 1173.2C126.6 1172.5 147.7 1170.2 159.9 1169.1C172.1 1167.9 182.1 1166.9 193.2 1166.2C204.2 1165.5 216.4 1165.2 226.4 1164.9C236.4 1164.6 244.7 1164.6 253 1164.6C261.4 1164.5 268.3 1164.6 276.3 1164.6C284.4 1164.6 294.3 1164.9 301.3 1164.6C308.2 1164.2 312.4 1163.3 317.9 1162.4C323.4 1161.5 327.6 1160.3 334.5 1159.1C341.5 1157.8 351.2 1156 359.5 1154.9C367.8 1153.8 376.1 1153 384.4 1152.4C392.7 1151.8 402.5 1151.5 409.4 1151.3C416.3 1151 418.6 1150.6 425.7 1150.8C432.7 1150.9 443.1 1151.2 451.6 1151.9C460.1 1152.6 468.2 1153.6 476.5 1154.9C484.8 1156.2 493.2 1157.9 501.5 1159.6C509.8 1161.2 518.1 1163.2 526.4 1164.9C534.7 1166.6 543.1 1168.5 551.4 1169.9C559.7 1171.3 566.6 1172.4 576.3 1173.2C586 1174 596.8 1174.4 609.6 1174.5C622.3 1174.7 638.9 1174.5 652.8 1174C666.8 1173.5 678.1 1172.1 693.2 1171.5C708.2 1171 729.2 1170.9 743.1 1170.7C756.9 1170.6 765.2 1170.4 776.3 1170.7C787.4 1171 796.2 1171.9 809.6 1172.4C822.9 1172.9 843.1 1173.8 856.5 1173.5C869.9 1173.3 878.7 1171.7 889.8 1170.7C900.9 1169.7 912 1168.1 923.1 1167.4C934.1 1166.6 945.2 1166.5 956.3 1166.2C967.4 1165.9 978.5 1165.6 989.6 1165.7C1000.7 1165.8 1011.8 1166.3 1022.8 1166.9C1033.9 1167.4 1044.8 1168.3 1056.1 1169.1C1067.4 1169.8 1084.9 1171.1 1090.7 1171.5M120 1186.9C126.6 1186.2 147.7 1184.4 159.9 1183.2C172.1 1182 182.1 1180.6 193.2 1179.5C204.2 1178.5 216.4 1177.5 226.4 1176.9C236.4 1176.2 246.1 1176 253 1175.7C260 1175.4 262.7 1175.8 268 1175.2C273.3 1174.7 279.1 1173.4 284.6 1172.4C290.2 1171.4 295.7 1170.3 301.3 1169.1C306.8 1167.8 312.4 1166.4 317.9 1164.9C323.4 1163.4 327.6 1161.8 334.5 1160.2C341.5 1158.7 351.2 1157 359.5 1155.7C367.8 1154.5 376.1 1153.6 384.4 1152.9C392.7 1152.2 402.5 1151.9 409.4 1151.6C416.3 1151.3 418.6 1150.9 425.7 1151.1C432.7 1151.3 443.1 1152 451.6 1152.9C460.1 1153.8 468.2 1155.1 476.5 1156.6C484.8 1158 493.2 1160.2 501.5 1161.6C509.8 1163 518.1 1163 526.4 1164.9C534.7 1166.8 543.1 1170.4 551.4 1173.2C559.7 1176 569.4 1179 576.3 1181.5C583.3 1184 587.4 1186 593 1188.2C598.5 1190.4 604.6 1193.3 609.6 1194.8C614.6 1196.4 618.7 1196.9 622.9 1197.3C627 1197.8 629.5 1197.9 634.5 1197.7C639.5 1197.5 645.8 1196.9 652.8 1196.2C659.8 1195.4 668.4 1194.4 676.5 1193.2C684.6 1192 693.2 1190.3 701.5 1189C709.8 1187.8 718.1 1186.5 726.4 1185.7C734.7 1184.9 743.1 1184.4 751.4 1184C759.7 1183.6 766.6 1183.1 776.3 1183.2C786 1183.3 796.2 1184.2 809.6 1184.9C822.9 1185.5 848.7 1186.5 856.5 1186.9M120 1208.1C123.9 1206.8 135.2 1202.3 143.3 1199.8C151.3 1197.3 159.9 1194.8 168.2 1193.2C176.5 1191.6 183.5 1190.9 193.2 1190.2C202.9 1189.5 216.4 1189.2 226.4 1189C236.4 1188.8 246.1 1189.2 253 1189C260 1188.9 262.7 1189 268 1188.2C273.3 1187.3 279.1 1185.8 284.6 1184C290.2 1182.2 295.7 1179.6 301.3 1177.4C306.8 1175.2 312.4 1172.8 317.9 1170.7C323.4 1168.6 329 1166.4 334.5 1164.9C340.1 1163.4 344.2 1163.1 351.2 1161.6C358.1 1160 367.8 1157.3 376.1 1155.7C384.4 1154.2 392.8 1153.2 401.1 1152.4C409.3 1151.7 421.6 1151.5 425.7 1151.3M120 1210.6C123.9 1209.7 135.2 1206.8 143.3 1204.8C151.3 1202.9 159.9 1200.4 168.2 1199C176.5 1197.6 183.5 1197.2 193.2 1196.5C202.9 1195.8 216.4 1195.2 226.4 1194.8C236.4 1194.5 246.1 1194.4 253 1194.5C260 1194.6 262.7 1194.8 268 1195.7C273.3 1196.6 279.1 1198.2 284.6 1199.8C290.2 1201.5 295.7 1203.6 301.3 1205.6C306.8 1207.7 312.4 1210.1 317.9 1212.3C323.4 1214.5 329 1216.7 334.5 1219C340.1 1221.2 344.2 1223 351.2 1225.6C358.1 1228.2 367.8 1231.7 376.1 1234.8C384.4 1237.8 393.3 1241 401.1 1243.9C408.8 1246.8 418.6 1250.8 422.7 1252.2C426.8 1253.6 425.2 1252.5 425.8 1252.5M425.8 1252.5C428.7 1250.1 437.6 1242.1 443.3 1238.1C449 1234 454.4 1231 459.9 1228.1C465.4 1225.2 471 1222.7 476.5 1220.6C482.1 1218.5 487.6 1216.9 493.2 1215.6C498.7 1214.4 503.7 1213.7 509.8 1213.1C515.9 1212.5 522.8 1212 529.8 1212C536.7 1212 545 1212.5 551.4 1213.1C557.7 1213.7 562.5 1214.7 568 1215.6C573.5 1216.5 579.1 1217.5 584.6 1218.5C590.2 1219.4 595.7 1220.6 601.3 1221.4C606.8 1222.3 612.4 1223 617.9 1223.4C623.4 1223.9 628.7 1223.9 634.5 1223.9C640.4 1223.9 647.2 1223.9 652.8 1223.4C658.4 1223 662.9 1222.5 668.2 1221.4C673.5 1220.4 679.3 1218.7 684.8 1217.3C690.4 1215.9 694.5 1214.8 701.5 1213.1C708.4 1211.5 718.1 1209 726.4 1207.3C734.7 1205.6 743.1 1204.1 751.4 1203.1C759.7 1202.2 769.4 1201.6 776.3 1201.5C783.3 1201.3 787.4 1201.8 793 1202.3C798.5 1202.9 804 1203.8 809.6 1204.8C815.1 1205.8 820.7 1207.1 826.2 1208.1C831.8 1209.2 837.8 1210.6 842.8 1211.1C847.9 1211.7 848.7 1211.8 856.5 1211.5C864.3 1211.1 878.7 1210.4 889.8 1209C900.9 1207.6 912 1204.7 923.1 1203.1C934.1 1201.6 945.2 1200.5 956.3 1199.8C967.4 1199.1 978.5 1198.7 989.6 1199C1000.7 1199.3 1013.1 1200.4 1022.8 1201.5C1032.6 1202.6 1039.5 1204 1047.8 1205.6C1056.1 1207.3 1066.4 1210.2 1072.7 1211.5C1079.1 1212.7 1083.1 1213 1086 1213.1C1089 1213.3 1089.9 1212.4 1090.7 1212.3M120 1218.1C126.6 1218.3 144.9 1218.7 159.9 1219C174.9 1219.2 194.3 1219.3 209.8 1219.4C225.3 1219.6 241.9 1219.6 253 1219.8C264.1 1220 269.7 1220.3 276.3 1220.6C283 1220.9 286 1221.6 293 1221.8C299.9 1221.9 310.1 1221.6 317.9 1221.4C325.7 1221.3 332.6 1220.5 339.5 1220.6C346.5 1220.8 353.4 1221.3 359.5 1222.3C365.6 1223.2 370.6 1224.6 376.1 1226.4C381.7 1228.2 387.2 1230.6 392.7 1233.1C398.3 1235.6 404.4 1238.4 409.4 1241.4C414.4 1244.5 420 1249.5 422.7 1251.4C425.4 1253.2 425.2 1252.3 425.8 1252.5M425.8 1252.5C430.1 1251.5 443.1 1248.4 451.6 1246.4C460 1244.4 466.8 1242.8 476.5 1240.6C486.2 1238.4 498.7 1235.6 509.8 1233.1C520.9 1230.6 533.4 1227.8 543.1 1225.6C552.8 1223.4 561.1 1221.4 568 1219.8C574.9 1218.1 579.1 1217 584.6 1215.6C590.2 1214.2 595.7 1212.8 601.3 1211.5C606.8 1210.2 613.2 1208.6 617.9 1207.8C622.6 1207 625.4 1206.8 629.5 1206.8C633.7 1206.8 639 1207.4 642.8 1207.8C646.7 1208.2 647.2 1207.9 652.8 1209C658.4 1210 669.8 1212.4 676.5 1214C683.3 1215.5 687.6 1216.6 693.2 1218.1C698.7 1219.6 702.9 1220.9 709.8 1223.1C716.7 1225.3 726.4 1229.1 734.7 1231.4C743.1 1233.8 753.3 1236.1 759.7 1237.2C766.1 1238.4 768.8 1238.2 773 1238.1C777.2 1237.9 779.9 1237.5 784.6 1236.4C789.3 1235.3 795.7 1233.5 801.3 1231.4C806.8 1229.3 812.4 1226.4 817.9 1223.9C823.4 1221.4 829.5 1218.7 834.5 1216.5C839.5 1214.2 844.2 1212 847.8 1210.6C851.5 1209.2 852.3 1209.7 856.5 1208.1C860.7 1206.6 866.2 1203.7 873.2 1201.5C880.1 1199.3 889.8 1196.5 898.1 1194.8C906.4 1193.2 913.4 1192.3 923.1 1191.5C932.8 1190.7 945.2 1190.2 956.3 1189.8C967.4 1189.5 978.5 1189.4 989.6 1189.5C1000.7 1189.7 1011.8 1189.8 1022.8 1190.7C1033.9 1191.6 1044.8 1193 1056.1 1194.8C1067.4 1196.6 1084.9 1200.4 1090.7 1201.5M334.5 1219C337.3 1219.8 344.2 1221.7 351.2 1223.9C358.1 1226.2 367.8 1229.1 376.1 1232.3C384.4 1235.4 393.3 1239.4 401.1 1242.7C408.8 1246.1 419.1 1250.6 422.7 1252.2M425.5 1173.5C429.8 1173.2 443.1 1172.7 451.6 1171.5C460.1 1170.4 469.6 1168.1 476.5 1166.6C483.5 1165 487.6 1163.6 493.2 1162.4C498.7 1161.2 502.9 1160.2 509.8 1159.6C516.7 1158.9 526.4 1158.2 534.7 1158.6C543.1 1158.9 551.4 1160.2 559.7 1161.6C568 1162.9 576.3 1165 584.6 1166.6C593 1168.2 598.2 1170.4 609.6 1171.2C620.9 1172 641.7 1172.6 652.8 1171.5C664 1170.5 668.4 1167.1 676.5 1164.9C684.6 1162.7 693.2 1160 701.5 1158.2C709.8 1156.4 718.1 1154.9 726.4 1154.1C734.7 1153.3 743.1 1153.1 751.4 1153.3C759.7 1153.4 766.6 1154.3 776.3 1154.9C786 1155.5 796.2 1156.5 809.6 1156.9C822.9 1157.3 843.1 1157.7 856.5 1157.4C869.9 1157.1 878.7 1156.3 889.8 1154.9C900.9 1153.5 912 1150.8 923.1 1149.1C934.1 1147.4 946.6 1145.9 956.3 1144.9C966 1144 973 1143.6 981.3 1143.6C989.6 1143.6 996.5 1143.7 1006.2 1144.9C1015.9 1146.1 1028.4 1148.7 1039.5 1150.8C1050.6 1152.8 1064.2 1155.9 1072.7 1157.4C1081.3 1158.9 1087.7 1159.5 1090.7 1159.9M576.3 1175.2C581.9 1175.4 596.8 1176.1 609.6 1176.2C622.3 1176.3 638.9 1176.2 652.8 1175.9C666.8 1175.5 678.1 1174.6 693.2 1174C708.2 1173.5 726.4 1172.9 743.1 1172.7C759.7 1172.5 774 1172.4 793 1172.7C811.9 1173 840.3 1174.5 856.5 1174.4C872.6 1174.2 878.7 1172.9 889.8 1171.9C900.9 1170.9 912 1169.3 923.1 1168.6C934.1 1167.8 945.2 1167.7 956.3 1167.4C967.4 1167.1 978.5 1166.8 989.6 1166.9C1000.7 1167 1014.5 1167.8 1022.8 1168.2C1031.2 1168.7 1028.2 1168.7 1039.5 1169.6C1050.8 1170.4 1082.2 1172.9 1090.7 1173.5M652.9 1196.2C656.8 1195.7 668.4 1194.3 676.5 1193.2C684.6 1192 693.2 1189.8 701.5 1189.3C709.8 1188.8 718.1 1189.5 726.4 1190.2C734.7 1190.8 743.1 1192.3 751.4 1193.2C759.7 1194.1 769.4 1194.8 776.3 1195.7C783.3 1196.5 787.4 1197.2 793 1198.2C798.5 1199.1 804 1200.2 809.6 1201.5C815.1 1202.7 820.7 1204.3 826.2 1205.6C831.8 1207 838.7 1208.8 842.8 1209.8C847 1210.8 848.9 1211.2 851.2 1211.5C853.4 1211.7 850 1212.2 856.5 1211.1C862.9 1210 878.7 1206.8 889.8 1204.8C900.9 1202.8 912 1200.4 923.1 1199C934.1 1197.6 945.2 1197 956.3 1196.5C967.4 1196 978.5 1196 989.6 1196.2C1000.7 1196.3 1013.1 1196.6 1022.8 1197.3C1032.6 1198.1 1039.5 1199.4 1047.8 1200.7C1056.1 1201.9 1065.6 1204.4 1072.7 1204.8C1079.9 1205.2 1087.7 1203.4 1090.7 1203.1M989.6 1178.2C997.9 1178.6 1025.6 1180.1 1039.5 1180.7C1053.3 1181.3 1064.2 1181.4 1072.7 1181.5C1081.3 1181.7 1087.7 1181.5 1090.7 1181.5" stroke="#1b06cf" stroke-width="5.9" fill="none" stroke-linejoin="round" stroke-linecap="butt" clip-path="url(#c3)"/>
<path d="M253 748V1266.7" stroke="#2a8318" stroke-width="4.6" stroke-dasharray="10.5 8.75" stroke-dashoffset="0" fill="none"/>
<path d="M425.8 748V1266.7" stroke="#2a8318" stroke-width="4.6" stroke-dasharray="10.5 8.75" stroke-dashoffset="0" fill="none"/>
<path d="M653 748V1266.7" stroke="#2a8318" stroke-width="4.6" stroke-dasharray="10.5 8.75" stroke-dashoffset="0" fill="none"/>
<path d="M856.2 748V1266.7" stroke="#2a8318" stroke-width="4.6" stroke-dasharray="10.5 8.75" stroke-dashoffset="0" fill="none"/>
<path d="M114 745H1096.6M114 1269.7H1096.6" fill="none" stroke="#000" stroke-width="6"/>
<path d="M117 745V1269.7M1093.6 745V1269.7" fill="none" stroke="#000" stroke-width="6"/>
<path d="M107.5 1252.5H114M107.5 1167.9H114M107.5 1083.3H114M107.5 998.8H114M107.5 914.2H114M107.5 829.6H114M107.5 745H114" stroke="#000" stroke-width="6" fill="none"/>
<path d="M111.5 1210.2H114M111.5 1125.6H114M111.5 1041H114M111.5 956.5H114M111.5 871.9H114M111.5 787.3H114" stroke="#000" stroke-width="4" fill="none"/>
<path d="M113 1252.5H125" stroke="#2a8318" stroke-width="4.6" fill="none"/>
<text transform="translate(99 1263)" font-family="'Liberation Serif', 'DejaVu Serif', serif" font-size="34" font-weight="bold" text-anchor="end" fill="#000">0</text>
<text transform="translate(99 1178.4)" font-family="'Liberation Serif', 'DejaVu Serif', serif" font-size="34" font-weight="bold" text-anchor="end" fill="#000">1</text>
<text transform="translate(99 1093.8)" font-family="'Liberation Serif', 'DejaVu Serif', serif" font-size="34" font-weight="bold" text-anchor="end" fill="#000">2</text>
<text transform="translate(99 1009.3)" font-family="'Liberation Serif', 'DejaVu Serif', serif" font-size="34" font-weight="bold" text-anchor="end" fill="#000">3</text>
<text transform="translate(99 924.7)" font-family="'Liberation Serif', 'DejaVu Serif', serif" font-size="34" font-weight="bold" text-anchor="end" fill="#000">4</text>
<text transform="translate(99 840.1)" font-family="'Liberation Serif', 'DejaVu Serif', serif" font-size="34" font-weight="bold" text-anchor="end" fill="#000">5</text>
<text transform="translate(99 755.5)" font-family="'Liberation Serif', 'DejaVu Serif', serif" font-size="34" font-weight="bold" text-anchor="end" fill="#000">6</text>
<text id="ylab3" transform="translate(35.5 1138) rotate(-90) scale(0.8926 1.0000)" font-family="'Liberation Serif', 'DejaVu Serif', serif" font-size="47" font-weight="bold" fill="#000">Frequency (THz)</text>
<text transform="translate(120.6 1303.5) scale(1.040 1.000)" font-family="'Liberation Serif', 'DejaVu Serif', serif" font-size="40.4" font-weight="bold" text-anchor="middle" fill="#000">W</text>
<text transform="translate(255 1303) scale(1.080 1.000)" font-family="'Liberation Serif', 'DejaVu Serif', serif" font-size="40.4" font-weight="bold" text-anchor="middle" fill="#000">L</text>
<text transform="translate(432.5 1302.5) scale(1.080 1.000)" font-family="'Liberation Serif', 'DejaVu Serif', serif" font-size="40.4" font-weight="bold" text-anchor="middle" fill="#000">G</text>
<text transform="translate(650 1301.5) scale(1.060 1.000)" font-family="'Liberation Serif', 'DejaVu Serif', serif" font-size="40.4" font-weight="bold" text-anchor="middle" fill="#000">X</text>
<text transform="translate(862 1302.5) scale(1.040 1.000)" font-family="'Liberation Serif', 'DejaVu Serif', serif" font-size="40.4" font-weight="bold" text-anchor="middle" fill="#000">W</text>
<text transform="translate(1088.8 1302.5) scale(1.060 1.000)" font-family="'Liberation Serif', 'DejaVu Serif', serif" font-size="40.4" font-weight="bold" text-anchor="middle" fill="#000">K</text>
<text id="kp3" transform="translate(532 1346.2) scale(1.1904 1.0000)" font-family="'Liberation Serif', 'DejaVu Serif', serif" font-size="40" font-weight="bold" font-style="italic" fill="#000">k-points</text>
<text id="ta3" transform="translate(512.2 722.2) scale(1.0886 1.0000)" font-family="'Liberation Sans', 'DejaVu Sans', sans-serif" font-size="31.5" font-weight="bold" fill="#000">(b)</text>
<text id="tf3" transform="translate(560.8 720.9) scale(1.0882 1.0000)" font-family="'Liberation Serif', 'DejaVu Serif', serif" font-size="29.1" font-weight="bold" fill="#000">K<tspan font-size="20.4" dy="7.9">2</tspan><tspan font-size="29.1" dy="-7.9">LiBiI</tspan><tspan font-size="20.4" dy="7.9">6</tspan></text>
<path d="M1217.3 1259.5L1277.4 1259L1279.9 1226.1L1282.7 1194.5L1284 1076.4L1285.3 960L1286.2 858.2L1288.5 960L1291.2 1026.5L1293.2 1076.4L1294.8 1126.3L1296.5 1159.6L1297.8 1199.5L1300.6 1179.5L1301.5 1176.2L1305.6 1176.2L1307 1184.5L1308.1 1159.6L1309.3 1126.3L1310.6 1104.7L1314 1126.3L1316.4 1143L1318.9 1157.9L1322.6 1151.3L1323.9 1159.6L1325.6 1184.5L1327.3 1206.2L1330.1 1219.5L1333.9 1227.8L1339.4 1234.1L1343.9 1229.4L1345.1 1209.5L1346.7 1182.9L1351.4 1192.8L1356.4 1184.5L1360.5 1174.6L1363.5 1167.9L1365.5 1192.8L1367.2 1209.5L1370.5 1226.1L1374.7 1241.1L1379.6 1254.4L1386.3 1255.7L1394.6 1256.4L1402.9 1255.2L1409.6 1251.9L1417.9 1244.4L1426.2 1232.8L1432.9 1221.1L1437.9 1214.5L1440.4 1200.3L1444.5 1206.2L1448.7 1197.8L1453.7 1192.8L1456.2 1176.2L1458.6 1151.3L1461.1 1127.2L1462.8 1176.2L1464.1 1209.5L1465.3 1256L1467.8 1245.2L1472 1239.4L1477.8 1226.1L1482.8 1209.5L1488.6 1184.5L1493.6 1170.4L1495.2 1126.3L1497.7 1043.2L1499.7 960L1501.7 799.3L1504.1 960L1505.2 1043.2L1506 1126.3L1506.5 1203.7L1509.9 1207.8L1514 1197.8L1517.7 1212.8L1521.4 1229.4L1526 1229.4L1529 1242.7L1531.5 1246.1L1536.5 1253.6L1541.5 1259L1667.9 1259L1669.1 1209.5L1670.4 1126.3L1671.6 1043.2L1672.2 960L1672.7 896.3L1674.9 960L1676.2 1043.2L1677.1 1126.3L1677.6 1179.5L1679.9 1189.5L1681.2 1196.2L1682.9 1216.1L1684.6 1241.1L1689.2 1241.9L1692.9 1232.8L1696.5 1227.8L1701.5 1224.4L1705 1239.4L1709.5 1229.4L1712.8 1214.5L1714.5 1192.8L1716.2 1159.6L1717.8 1140.5L1719.5 1176.2L1720.8 1226.1L1721.5 1250.2L1725.3 1242.7L1729.5 1232.8L1734.4 1224.4L1737.8 1204.5L1741.9 1224.4L1746.1 1251.9L1748.5 1209.5L1753.2 1209.5L1755.7 1214.5L1760.7 1234.4L1764.8 1241.1L1770.6 1251.1L1779.8 1259L1932 1259L1937.5 1251.1L1938.3 1226.1L1939.5 1159.6L1940.6 1118L1942 1115.5L1946.4 1116L1947.8 1143L1949.4 1182L1951.1 1159.6L1953.6 1141.3L1957.4 1149.6L1959.4 1154.6L1960.7 1192.8L1961.9 1234.4L1962.7 1259L1990 1259.5" stroke="#1b06cf" stroke-width="6" fill="none" stroke-linejoin="round" stroke-linecap="butt"/>
<path d="M1214.8 745.6H1992.5M1214.8 1265.5H1992.5" fill="none" stroke="#000" stroke-width="5.8"/>
<path d="M1217.3 745.6V1265.5M1990 745.6V1265.5" fill="none" stroke="#000" stroke-width="5"/>
<path d="M1208.8 1259.5H1214.8M1208.8 1195.2H1214.8M1208.8 1131H1214.8M1208.8 1066.8H1214.8M1208.8 1002.5H1214.8M1208.8 938.2H1214.8M1208.8 874H1214.8M1208.8 809.8H1214.8M1208.8 745.5H1214.8" stroke="#000" stroke-width="6" fill="none"/>
<path d="M1212.3 1227.4H1214.3M1212.3 1163.1H1214.3M1212.3 1098.9H1214.3M1212.3 1034.6H1214.3M1212.3 970.4H1214.3M1212.3 906.1H1214.3M1212.3 841.9H1214.3M1212.3 777.6H1214.3" stroke="#000" stroke-width="4" fill="none"/>
<path d="M1276.2 1268.4V1274M1395.2 1268.4V1274M1514 1268.4V1274M1633 1268.4V1274M1751.8 1268.4V1274M1870.8 1268.4V1274M1989.7 1268.4V1274" stroke="#000" stroke-width="4.8" fill="none"/>
<path d="M1335.7 1268.5V1271M1454.6 1268.5V1271M1573.5 1268.5V1271M1692.4 1268.5V1271M1811.3 1268.5V1271M1930.2 1268.5V1271" stroke="#000" stroke-width="4" fill="none"/>
<text transform="translate(1203.8 1270.4) scale(0.920 1.000)" font-family="'Liberation Serif', 'DejaVu Serif', serif" font-size="35.2" font-weight="bold" text-anchor="end" fill="#000">0</text>
<text transform="translate(1203.8 1206.1) scale(0.920 1.000)" font-family="'Liberation Serif', 'DejaVu Serif', serif" font-size="35.2" font-weight="bold" text-anchor="end" fill="#000">10</text>
<text transform="translate(1203.8 1141.9) scale(0.920 1.000)" font-family="'Liberation Serif', 'DejaVu Serif', serif" font-size="35.2" font-weight="bold" text-anchor="end" fill="#000">20</text>
<text transform="translate(1203.8 1077.6) scale(0.920 1.000)" font-family="'Liberation Serif', 'DejaVu Serif', serif" font-size="35.2" font-weight="bold" text-anchor="end" fill="#000">30</text>
<text transform="translate(1203.8 1013.4) scale(0.920 1.000)" font-family="'Liberation Serif', 'DejaVu Serif', serif" font-size="35.2" font-weight="bold" text-anchor="end" fill="#000">40</text>
<text transform="translate(1203.8 949.1) scale(0.920 1.000)" font-family="'Liberation Serif', 'DejaVu Serif', serif" font-size="35.2" font-weight="bold" text-anchor="end" fill="#000">50</text>
<text transform="translate(1203.8 884.9) scale(0.920 1.000)" font-family="'Liberation Serif', 'DejaVu Serif', serif" font-size="35.2" font-weight="bold" text-anchor="end" fill="#000">60</text>
<text transform="translate(1203.8 820.6) scale(0.920 1.000)" font-family="'Liberation Serif', 'DejaVu Serif', serif" font-size="35.2" font-weight="bold" text-anchor="end" fill="#000">70</text>
<text transform="translate(1203.8 756.4) scale(0.920 1.000)" font-family="'Liberation Serif', 'DejaVu Serif', serif" font-size="35.2" font-weight="bold" text-anchor="end" fill="#000">80</text>
<text transform="translate(1276.2 1307) scale(0.880 1.000)" font-family="'Liberation Serif', 'DejaVu Serif', serif" font-size="35.4" font-weight="bold" text-anchor="middle" fill="#000">0</text>
<text transform="translate(1395.2 1307) scale(0.880 1.000)" font-family="'Liberation Serif', 'DejaVu Serif', serif" font-size="35.4" font-weight="bold" text-anchor="middle" fill="#000">1</text>
<text transform="translate(1514 1307) scale(0.880 1.000)" font-family="'Liberation Serif', 'DejaVu Serif', serif" font-size="35.4" font-weight="bold" text-anchor="middle" fill="#000">2</text>
<text transform="translate(1633 1307) scale(0.880 1.000)" font-family="'Liberation Serif', 'DejaVu Serif', serif" font-size="35.4" font-weight="bold" text-anchor="middle" fill="#000">3</text>
<text transform="translate(1751.8 1307) scale(0.880 1.000)" font-family="'Liberation Serif', 'DejaVu Serif', serif" font-size="35.4" font-weight="bold" text-anchor="middle" fill="#000">4</text>
<text transform="translate(1870.8 1307) scale(0.880 1.000)" font-family="'Liberation Serif', 'DejaVu Serif', serif" font-size="35.4" font-weight="bold" text-anchor="middle" fill="#000">5</text>
<text transform="translate(1989.7 1307) scale(0.880 1.000)" font-family="'Liberation Serif', 'DejaVu Serif', serif" font-size="35.4" font-weight="bold" text-anchor="middle" fill="#000">6</text>
<text id="ylab4" transform="translate(1156.7 1178) rotate(-90) scale(1.1109 1.0000)" font-family="'Liberation Serif', 'DejaVu Serif', serif" font-size="32.9" font-weight="bold" fill="#000">Phonon DOS (1/THz)</text>
<text id="xlab4" transform="translate(1518 1343) scale(0.9318 1.0000)" font-family="'Liberation Serif', 'DejaVu Serif', serif" font-size="34.5" font-weight="bold" fill="#000">Frequency (THz)</text>
<text id="ta4" transform="translate(1498.8 731) scale(0.8157 1.0000)" font-family="'Liberation Sans', 'DejaVu Sans', sans-serif" font-size="30" font-weight="bold" fill="#000">(b)</text>
<text id="tf4" transform="translate(1541.5 731.2) scale(0.9452 1.0000)" font-family="'Liberation Serif', 'DejaVu Serif', serif" font-size="36.5" font-weight="bold" fill="#000">K<tspan font-size="24.1" dy="8">2</tspan><tspan font-size="36.5" dy="-8">LiBiI</tspan><tspan font-size="24.1" dy="8">6</tspan></text>
<clipPath id="c5"><rect x="113.6" y="1400.4" width="989" height="520.1"/></clipPath>
<path d="M106.6 1909.5H1102.6" stroke="#2a8318" stroke-width="4.6" stroke-dasharray="11.5 10.5" stroke-dashoffset="0" fill="none"/>
<path d="M113.7 1428.6C120.9 1428.1 141.6 1427.1 157.4 1425.5C173.1 1423.8 193 1420.2 208.2 1418.6C223.5 1417 238.4 1416.5 248.9 1416C259.4 1415.5 261.1 1415.1 271.3 1415.6C281.4 1416.2 295 1416.9 309.9 1419.1C324.8 1421.4 343.8 1426.1 360.8 1428.9C377.7 1431.8 400.2 1434.9 411.6 1436.3C423 1437.7 420.1 1437.5 429.4 1437.3C438.7 1437.2 451 1436.8 467.5 1435.5C484 1434.2 511.6 1430.1 528.5 1429.5C545.5 1428.9 554 1430.6 569.2 1431.8C584.5 1433 607 1435.7 620.1 1436.6C633.1 1437.5 637.9 1437.7 647.3 1437.3C656.6 1437 664.8 1436.1 676 1434.6C687.1 1433.2 700.1 1430.2 714.1 1428.5C728.1 1426.8 745 1425.1 759.9 1424.7C774.7 1424.2 786.6 1425 803.1 1425.7C819.6 1426.4 840.2 1428.9 859 1428.7C877.8 1428.5 899.9 1426 916 1424.6C932.1 1423.1 941.4 1421 955.6 1419.8C969.9 1418.6 986.5 1417.5 1001.4 1417.4C1016.2 1417.3 1027.7 1417.6 1044.6 1419.2C1061.5 1420.8 1092.9 1425.7 1102.6 1427M113.7 1433.1C120.9 1432.5 141.6 1431.4 157.4 1429.6C173.1 1427.7 193 1423.9 208.2 1422.1C223.5 1420.4 238.4 1419.7 248.9 1419C259.4 1418.4 261.1 1418 271.3 1418.5C281.4 1418.9 295 1419.5 309.9 1421.6C324.8 1423.7 343.8 1428.2 360.8 1430.9C377.7 1433.6 400.2 1436.5 411.6 1437.8C423 1439.1 420.1 1438.7 429.4 1438.7C438.7 1438.6 451 1438.6 467.5 1437.7C484 1436.8 511.6 1433.6 528.5 1433.1C545.5 1432.6 554 1433.8 569.2 1434.7C584.5 1435.5 607 1437.8 620.1 1438.5C633.1 1439.1 637.9 1439 647.3 1438.7C656.6 1438.4 664.8 1437.8 676 1436.6C687.1 1435.4 700.1 1432.7 714.1 1431.3C728.1 1430 745 1428.8 759.9 1428.5C774.7 1428.1 786.6 1428.7 803.1 1429.3C819.6 1429.9 840.2 1432.4 859 1432.1C877.8 1431.8 899.9 1429.2 916 1427.6C932.1 1426.1 941.4 1424 955.6 1422.9C969.9 1421.7 986.5 1420.5 1001.4 1420.5C1016.2 1420.4 1027.7 1420.8 1044.6 1422.5C1061.5 1424.3 1092.9 1429.5 1102.6 1430.9M113.7 1430.9C120.9 1430.3 141.6 1429.3 157.4 1427.5C173.1 1425.8 193 1422 208.2 1420.4C223.5 1418.7 238.4 1418.1 248.9 1417.5C259.4 1417 261.1 1416.6 271.3 1417C281.4 1417.5 295 1418.2 309.9 1420.4C324.8 1422.5 343.8 1427.1 360.8 1429.9C377.7 1432.7 400.2 1435.7 411.6 1437C423 1438.4 420.1 1438.1 429.4 1438C438.7 1437.9 451 1437.7 467.5 1436.6C484 1435.5 511.6 1431.9 528.5 1431.3C545.5 1430.8 554 1432.2 569.2 1433.2C584.5 1434.3 607 1436.7 620.1 1437.5C633.1 1438.3 637.9 1438.3 647.3 1438C656.6 1437.7 664.8 1437 676 1435.6C687.1 1434.3 700.1 1431.4 714.1 1429.9C728.1 1428.4 745 1427 759.9 1426.6C774.7 1426.2 786.6 1426.9 803.1 1427.5C819.6 1428.2 840.2 1430.6 859 1430.4C877.8 1430.1 899.9 1427.6 916 1426.1C932.1 1424.6 941.4 1422.5 955.6 1421.3C969.9 1420.1 986.5 1419 1001.4 1419C1016.2 1418.9 1027.7 1419.2 1044.6 1420.9C1061.5 1422.5 1092.9 1427.6 1102.6 1429M113.7 1679.7C120.9 1680.3 141.6 1681.9 157.4 1683.3C173.1 1684.7 193 1687 208.2 1688C223.5 1689.1 238.3 1689.5 248.9 1689.7C259.5 1689.9 261.6 1690.3 271.8 1689.2C281.9 1688.2 295.1 1686.3 309.9 1683.3C324.7 1680.3 345.9 1674.7 360.8 1671.4C375.6 1668.1 387.4 1665.3 398.9 1663.5C410.3 1661.7 413.7 1660.5 429.4 1660.7C445.1 1660.8 469.6 1662.8 492.9 1664.2C516.2 1665.6 548 1667.6 569.2 1669C590.4 1670.4 607 1671.8 620.1 1672.6C633.1 1673.3 634.5 1672.5 647.3 1673.3C660 1674.1 679.7 1676.3 696.3 1677.3C713 1678.4 725 1679 747.2 1679.7C769.4 1680.4 810 1681.6 829.5 1681.4C849 1681.1 853.7 1678.3 864.1 1678C874.5 1677.8 883.4 1678.8 892.1 1679.7C900.7 1680.7 905.6 1682.3 916.2 1683.8C926.8 1685.2 940.6 1687.2 955.6 1688.5C970.7 1689.8 989.5 1691.3 1006.5 1691.4C1023.4 1691.5 1041.3 1690.5 1057.3 1689.2C1073.3 1688 1095 1684.7 1102.6 1683.8M113.7 1686.8C120.9 1687 141.6 1687.2 157.4 1688C173.1 1688.8 193 1690.6 208.2 1691.6C223.5 1692.6 238.3 1693.5 248.9 1694C259.5 1694.5 263.7 1693.9 271.8 1694.7C279.8 1695.5 286.6 1696.3 297.2 1698.8C307.8 1701.2 322.6 1706.1 335.3 1709.5C348 1712.8 362.9 1716.6 373.5 1719C384.1 1721.4 389.6 1722.6 398.9 1723.8C408.2 1724.9 413.7 1725.6 429.4 1725.7C445.1 1725.7 469.6 1724.6 492.9 1724.2C516.2 1723.8 543.5 1723.8 569.2 1723.3C594.9 1722.7 634.2 1721.3 647.3 1720.9M113.7 1714.2C125.2 1713.8 160.3 1711.9 182.8 1711.9C205.3 1711.9 231.9 1713.9 248.9 1714.2C265.8 1714.6 270.1 1714.4 284.5 1713.8C298.9 1713.2 320.5 1711.4 335.3 1710.7C350.2 1709.9 357.8 1709.4 373.5 1709.5C389.1 1709.6 409.5 1711.2 429.4 1711.4C449.3 1711.6 473.9 1710.7 492.9 1710.7C512 1710.7 526.8 1711.4 543.8 1711.4C560.7 1711.4 577.4 1710.9 594.6 1710.7C611.9 1710.5 630.3 1710.2 647.3 1710.2C664.2 1710.2 679.7 1710.2 696.3 1710.7C713 1711.1 732.3 1712.9 747.2 1713C762 1713.2 771.6 1711.6 785.3 1711.4C799 1711.2 816.4 1711.5 829.5 1711.9C842.7 1712.2 849.6 1713.8 864.1 1713.8C878.5 1713.8 892.5 1712 916.2 1711.9C939.9 1711.7 975.4 1713.2 1006.5 1713C1037.5 1712.8 1086.5 1711.1 1102.6 1710.7M113.7 1720.2C118.8 1719.7 133.1 1718.3 144.7 1717.1C156.2 1715.9 170.1 1713.8 182.8 1713C195.5 1712.2 209.9 1712.1 220.9 1712.3C231.9 1712.5 244.2 1713.9 248.9 1714.2M113.7 1722.6C118.8 1723.1 133.1 1723.9 144.7 1725.7C156.2 1727.4 170.1 1731 182.8 1733.3C195.5 1735.5 209.9 1738 220.9 1739.2C231.9 1740.5 238.3 1740.6 248.9 1740.9C259.5 1741.2 270.1 1741.4 284.5 1740.9C298.9 1740.4 318.4 1739.7 335.3 1738C352.3 1736.4 370.5 1732.9 386.2 1730.9C401.8 1728.9 415.8 1726.3 429.4 1726.1C442.9 1725.9 454.8 1728.6 467.5 1729.7C480.2 1730.8 492.9 1732.7 505.7 1732.8C518.4 1732.9 529 1732.1 543.8 1730.4C558.6 1728.7 577.4 1724.5 594.6 1722.6C611.9 1720.7 638.5 1719.6 647.3 1719M113.7 1734.5C120.9 1734.9 141.6 1735.9 157.4 1736.9C173.1 1737.8 193 1739.6 208.2 1740.4C223.5 1741.2 236.2 1741.4 248.9 1741.6C261.6 1741.8 270.1 1742.1 284.5 1741.6C298.9 1741.1 318.4 1740.4 335.3 1738.8C352.3 1737.1 370.5 1733.7 386.2 1731.6C401.8 1729.5 413.7 1726.7 429.4 1726.1C445.1 1725.5 465.4 1727.6 480.2 1728C495.1 1728.5 505.7 1729.2 518.4 1729C531.1 1728.8 543.8 1727.6 556.5 1726.6C569.2 1725.7 579.5 1724.4 594.6 1723.3C609.8 1722.2 638.5 1720.7 647.3 1720.2M429.4 1711.4C444.2 1711.3 499.3 1711.4 518.4 1710.7C537.4 1709.9 535.3 1708.9 543.8 1707.1C552.3 1705.3 560.7 1702.4 569.2 1699.9C577.7 1697.5 586.2 1694.4 594.6 1692.3C603.1 1690.3 611.3 1688.6 620.1 1687.6C628.8 1686.6 634.5 1686.4 647.3 1686.4C660 1686.4 679.7 1686.7 696.3 1687.6C713 1688.4 734.4 1690.8 747.2 1691.6C759.9 1692.4 764.1 1692.5 772.6 1692.3C781.1 1692.1 788.5 1691.3 798 1690.4C807.5 1689.5 818.5 1688 829.5 1686.8C840.5 1685.7 853.7 1684.3 864.1 1683.8C874.5 1683.2 883.4 1683 892.1 1683.3C900.7 1683.6 905.6 1684.7 916.2 1685.7C926.8 1686.6 940.6 1688.2 955.6 1689.2C970.7 1690.2 989.5 1691.5 1006.5 1691.6C1023.4 1691.7 1041.3 1690.7 1057.3 1689.9C1073.3 1689.1 1095 1687.4 1102.6 1686.8M647.3 1720.2C659.7 1720.6 691.4 1722.2 721.7 1722.6C752.1 1723 805.8 1722.6 829.5 1722.6C853.3 1722.6 853.7 1722.8 864.1 1722.6C874.5 1722.3 883.4 1721.8 892.1 1720.9C900.7 1720 907.7 1718.3 916.2 1717.1C924.7 1715.9 932.1 1714.6 942.9 1713.8C953.7 1713 954.4 1712.6 981 1712.3C1007.6 1712 1082.3 1711.9 1102.6 1711.9M647.3 1721.4C655.4 1722.8 679.7 1726.9 696.3 1729.7C713 1732.5 734.4 1736.5 747.2 1738C759.9 1739.6 758.9 1739.4 772.6 1739.2C786.3 1739 814.3 1737.8 829.5 1736.9C844.8 1735.9 853.7 1734.2 864.1 1733.8C874.5 1733.4 883.4 1734 892.1 1734.5C900.7 1735 905.6 1735.9 916.2 1736.9C926.8 1737.8 940.6 1739.5 955.6 1740.4C970.7 1741.3 989.5 1742.1 1006.5 1742.3C1023.4 1742.5 1041.3 1742.3 1057.3 1741.6C1073.3 1740.9 1095 1738.6 1102.6 1738M864.1 1722.6C868.8 1722.8 883.4 1722.6 892.1 1723.8C900.7 1724.9 905.6 1727.3 916.2 1729.7C926.8 1732.1 940.6 1736.1 955.6 1738C970.7 1740 989.5 1741.6 1006.5 1741.6C1023.4 1741.6 1041.3 1740.6 1057.3 1738C1073.3 1735.5 1095 1728.1 1102.6 1726.1M1006.5 1713C1014.9 1712.9 1044.6 1711.9 1057.3 1712.3C1070 1712.7 1075.2 1714.2 1082.7 1715.4C1090.3 1716.6 1099.2 1718.8 1102.6 1719.5M113.3 1809.1C120.6 1809.1 144.3 1809.4 157.3 1809.1C170.2 1808.8 179.8 1808 191.1 1807.4C202.4 1806.7 215.3 1805.7 224.9 1805.2C234.6 1804.7 242.1 1804.4 249.1 1804.4C256.2 1804.4 260 1804.4 267.2 1805.2C274.4 1805.9 285.5 1807.4 292.6 1808.6C299.6 1809.9 303.8 1811.1 309.5 1812.6C315.1 1814.1 319.4 1815.6 326.4 1817.4C333.4 1819.1 343.3 1820.9 351.8 1822.9C360.2 1824.9 368.7 1827.5 377.1 1829.2C385.6 1830.9 395.5 1832.3 402.5 1833.2C409.6 1834 414.9 1834 419.4 1834.3C423.9 1834.6 421.1 1835.2 429.7 1834.8C438.3 1834.3 456.9 1832.3 470.8 1831.6C484.7 1830.9 497.6 1831 513.1 1830.8C528.6 1830.6 549.7 1830.5 563.8 1830.5C577.9 1830.5 583.7 1830.8 597.6 1830.8C611.5 1830.9 633.1 1830.9 647.2 1830.8C661.3 1830.7 665 1830.4 682.2 1830C699.4 1829.6 733.3 1828.6 750.3 1828.4C767.2 1828.3 772.8 1829 784.1 1829.2C795.4 1829.5 803.8 1829.8 817.9 1830C832 1830.3 852.3 1830.7 868.7 1830.8C885 1830.9 899.6 1830.4 916 1830.8C932.4 1831.2 950.1 1832.9 967.1 1833.2C984.1 1833.5 1003.8 1833.1 1017.9 1832.7C1032 1832.3 1040.4 1831.7 1051.7 1830.8C1063 1830 1077.1 1828.4 1085.5 1827.6C1094 1826.9 1099.6 1826.3 1102.4 1826.1M113.3 1824.2C117.8 1823.8 130.2 1823.1 140.4 1822.1C150.5 1821.2 162.9 1819.5 174.2 1818.5C185.5 1817.4 195.5 1816.4 208 1815.8C220.5 1815.1 237.8 1814.7 249.1 1814.7C260.4 1814.6 268.4 1815 275.7 1815.3C282.9 1815.6 286.9 1815.8 292.6 1816.2C298.2 1816.7 303.8 1817.2 309.5 1817.8C315.1 1818.5 319.4 1818.9 326.4 1820C333.4 1821.2 343.3 1823.1 351.8 1824.8C360.2 1826.5 368.7 1828.5 377.1 1830C385.6 1831.5 395.5 1832.9 402.5 1833.7C409.6 1834.5 414.9 1834.6 419.4 1834.8C423.9 1835 423.9 1835.2 429.7 1834.8C435.4 1834.4 447 1833.5 453.9 1832.4C460.7 1831.3 465.2 1830.2 470.8 1828.4C476.4 1826.7 482.1 1824.2 487.7 1822.1C493.3 1820 499 1817.6 504.6 1815.8C510.2 1813.9 515.9 1812.1 521.5 1811C527.2 1810 532.8 1809.6 538.4 1809.4C544.1 1809.2 548.3 1809.2 555.3 1809.9C562.4 1810.6 573.7 1812.2 580.7 1813.4C587.8 1814.6 592 1816.1 597.6 1817.4C603.3 1818.6 608.9 1820.1 614.5 1821C620.2 1821.9 626 1822.6 631.5 1822.9C636.9 1823.2 641.5 1823.2 647.2 1822.9C652.8 1822.6 659.4 1822.1 665.3 1821.3C671.1 1820.5 676.6 1819.3 682.2 1818.1C687.8 1817 692 1815.5 699.1 1814.2C706.2 1812.9 716.4 1811.3 724.9 1810.2C733.4 1809.2 740.4 1808 750.3 1807.8C760.1 1807.7 772.8 1809.2 784.1 1809.4C795.4 1809.7 803.8 1809.6 817.9 1809.4C832 1809.3 852.3 1808.8 868.7 1808.6C885 1808.5 902.4 1808.8 916 1808.6C929.6 1808.5 936.1 1808.3 950.2 1807.8C964.4 1807.4 984 1805.9 1000.9 1805.9C1017.9 1805.9 1034.8 1806.7 1051.7 1807.8C1068.6 1809 1094 1811.8 1102.4 1812.6M113.3 1832.4C123.4 1832.3 155.6 1831.7 174.2 1831.6C192.8 1831.5 212.4 1831.7 224.9 1831.6C237.4 1831.6 243.5 1831.4 249.1 1831.3C254.7 1831.2 254.3 1831.6 258.7 1831.1C263.2 1830.7 270 1829.7 275.7 1828.4C281.3 1827.2 286.9 1825.3 292.6 1823.7C298.2 1822.1 303.8 1820.5 309.5 1818.9C315.1 1817.4 319.4 1815.9 326.4 1814.2C333.4 1812.5 343.3 1810.2 351.8 1808.6C360.2 1807.1 368.7 1805.7 377.1 1804.7C385.6 1803.6 393.7 1802.9 402.5 1802.3C411.3 1801.7 419.7 1801.2 429.7 1801.2C439.7 1801.1 451.3 1801.4 462.3 1802C473.4 1802.6 484.9 1803.7 496.2 1804.7C507.4 1805.7 518.7 1806.9 530 1807.8C541.3 1808.8 552.5 1809.7 563.8 1810.5C575.1 1811.3 586.4 1812.1 597.6 1812.6C608.9 1813.1 623.2 1813.3 631.5 1813.4C639.7 1813.5 641.5 1813.3 647.2 1813.4C652.8 1813.5 659.4 1813.7 665.3 1814.2C671.2 1814.7 674.1 1815.9 682.6 1816.6C691.1 1817.2 705.2 1818 716.4 1818.1C727.7 1818.3 739 1817.5 750.3 1817.4C761.5 1817.2 772.8 1817 784.1 1817.4C795.4 1817.7 806.6 1818.9 817.9 1819.7C829.2 1820.5 840.5 1821.7 851.7 1822.1C863 1822.5 874.9 1822.4 885.6 1822.1C896.3 1821.8 905.2 1821.2 916 1820.5C926.8 1819.8 936.1 1818.6 950.2 1817.8C964.4 1817 984 1815.8 1000.9 1815.8C1017.9 1815.7 1037.6 1816.4 1051.7 1817.4C1065.8 1818.3 1077.1 1820.4 1085.5 1821.3C1094 1822.2 1099.6 1822.6 1102.4 1822.9M113.3 1869.6C116.4 1868.6 124.6 1866.1 131.9 1863.3C139.2 1860.5 148.8 1856 157.3 1853C165.7 1850 174.2 1847.1 182.6 1845.1C191.1 1843 201 1841.4 208 1840.6C215.1 1839.9 218.1 1840.2 224.9 1840.6C231.8 1841.1 243.5 1842.9 249.1 1843.5C254.7 1844 254.3 1844.5 258.7 1844C263.2 1843.4 270 1842.1 275.7 1840.3C281.3 1838.5 286.9 1835.6 292.6 1833.2C298.2 1830.8 303.8 1828.3 309.5 1826.1C315.1 1823.8 319.4 1822.1 326.4 1819.7C333.4 1817.4 343.3 1814.1 351.8 1811.8C360.2 1809.6 368.7 1807.7 377.1 1806.3C385.6 1804.8 393.7 1803.9 402.5 1803.1C411.3 1802.2 416.9 1800.9 429.7 1801.2C442.5 1801.5 467.6 1803.4 479.2 1804.7C490.9 1805.9 493.3 1807.1 499.5 1808.6C505.7 1810.2 508.6 1811.4 516.5 1814.2C524.3 1817 537.6 1822 546.9 1825.3C556.2 1828.6 565.2 1831.1 572.3 1834C579.3 1836.9 583.5 1839.5 589.2 1842.7C594.8 1845.9 601 1849.7 606.1 1853C611.2 1856.3 615.7 1860 619.6 1862.5C623.6 1865 626.7 1866.9 629.8 1868C632.9 1869.2 635.3 1869.6 638.2 1869.6C641.1 1869.7 642.6 1870.1 647.2 1868.5C651.8 1866.9 659.8 1862.3 665.7 1860.1C671.6 1857.9 674.2 1857.6 682.6 1855.4C691.1 1853.1 705.2 1849.6 716.4 1846.7C727.7 1843.8 742.4 1840.1 750.3 1837.9C758.2 1835.8 758.2 1834.4 763.8 1834C769.4 1833.6 775.1 1835.2 784.1 1835.6C793.1 1836 806.6 1836.5 817.9 1836.4C829.2 1836.2 840.5 1835.3 851.7 1834.8C863 1834.3 874.9 1833.6 885.6 1833.2C896.3 1832.7 902.4 1832.1 916 1832.1C929.6 1832.1 953 1833 967.1 1833.2C981.3 1833.4 986.9 1833.1 1000.9 1833.2C1015 1833.3 1037.6 1833.3 1051.7 1834C1065.8 1834.6 1077.1 1836.2 1085.5 1837.2C1094 1838.1 1099.6 1839.1 1102.4 1839.5M113.3 1875.2C117.8 1873.6 130.2 1869.1 140.4 1865.7C150.5 1862.2 162.9 1857.5 174.2 1854.6C185.5 1851.7 198.1 1849.8 208 1848.2C217.9 1846.7 226.5 1845.8 233.4 1845.1C240.2 1844.4 244.9 1844.2 249.1 1844C253.3 1843.8 254.3 1843.5 258.7 1844C263.2 1844.4 270 1845.2 275.7 1846.7C281.3 1848.2 286.9 1850.8 292.6 1853C298.2 1855.2 303.8 1857.9 309.5 1860.1C315.1 1862.4 320.8 1864.4 326.4 1866.5C332 1868.6 337.7 1870.8 343.3 1872.8C348.9 1874.8 354.6 1876.1 360.2 1878.3C365.9 1880.6 371.5 1883.6 377.1 1886.3C382.8 1888.9 388.4 1891.7 394 1894.2C399.7 1896.7 405.9 1898.9 411 1901.3C416 1903.7 421.4 1907.1 424.5 1908.4C427.6 1909.8 428.6 1909.3 429.4 1909.5M429.4 1909.5C432.1 1907.5 439.9 1901.2 445.4 1897.4C450.9 1893.5 456.7 1889.4 462.3 1886.3C468 1883.1 473.6 1880.4 479.2 1878.3C484.9 1876.3 490.5 1875 496.2 1873.9C501.8 1872.9 507.4 1872.3 513.1 1872C518.7 1871.7 524.3 1871.6 530 1872C535.6 1872.4 541.3 1873.3 546.9 1874.4C552.5 1875.4 558.2 1876.9 563.8 1878.3C569.4 1879.8 575.1 1881.5 580.7 1883.1C586.4 1884.7 592 1886.5 597.6 1887.9C603.3 1889.2 608.9 1890.2 614.5 1891C620.2 1891.8 626 1892.4 631.5 1892.6C636.9 1892.8 641.5 1892.2 647.2 1892.3C652.9 1892.4 659.8 1893.6 665.7 1893.4C671.6 1893.2 677 1892.3 682.6 1891C688.3 1889.7 693.9 1887.5 699.5 1885.5C705.2 1883.5 710.2 1881.2 716.4 1879.1C722.6 1877 729.7 1874.6 736.7 1872.8C743.8 1871 750.8 1869.1 758.7 1868C766.6 1867 777 1866.6 784.1 1866.5C791.1 1866.3 794 1866.3 801 1867.3C808 1868.2 819.3 1870.4 826.4 1872C833.4 1873.6 838.2 1875.3 843.3 1876.8C848.4 1878.2 853.1 1880.2 856.8 1880.7C860.5 1881.2 860.5 1881.4 865.3 1879.9C870.1 1878.5 877.1 1875.2 885.6 1872C894 1868.8 905.2 1864.9 916 1860.9C926.8 1857 938.9 1851 950.2 1848.2C961.6 1845.5 972.8 1844.9 984 1844.3C995.3 1843.6 1006.6 1843.6 1017.9 1844.3C1029.1 1844.9 1040.4 1846.3 1051.7 1848.2C1063 1850.2 1077.1 1853.9 1085.5 1856.2C1094 1858.4 1099.6 1860.8 1102.4 1861.7M113.3 1881.5C115 1881.2 117.5 1881.8 123.4 1879.9C129.4 1878.1 140.4 1873.3 148.8 1870.4C157.3 1867.5 164.3 1864.9 174.2 1862.5C184.1 1860.1 198.1 1857.6 208 1856.2C217.9 1854.7 226.5 1854.3 233.4 1853.8C240.2 1853.3 244.9 1853.3 249.1 1853.3C253.3 1853.3 254.3 1853.2 258.7 1853.8C263.2 1854.4 270 1855.6 275.7 1857C281.3 1858.3 286.9 1860.1 292.6 1861.7C298.2 1863.3 303.8 1865 309.5 1866.5C315.1 1867.9 320.8 1869.1 326.4 1870.4C332 1871.7 337.7 1872.8 343.3 1874.4C348.9 1876 353.2 1877.4 360.2 1879.9C367.3 1882.4 377.1 1886 385.6 1889.4C394 1892.9 403.7 1897.2 411 1900.5C418.3 1903.9 426.3 1908 429.4 1909.5M429.4 1909.5C433.5 1908.4 445.6 1905.3 453.9 1902.9C462.2 1900.5 470.8 1897.8 479.2 1895C487.7 1892.2 496.2 1889.2 504.6 1886.3C513.1 1883.4 521.5 1880.2 530 1877.6C538.4 1874.9 546.9 1872.5 555.3 1870.4C563.8 1868.3 573.7 1866.2 580.7 1864.9C587.8 1863.6 592 1863.2 597.6 1862.5C603.3 1861.8 608.9 1861.3 614.5 1860.9C620.2 1860.5 626 1860.3 631.5 1860.1C636.9 1859.9 638.7 1861 647.2 1859.8C655.7 1858.6 671.1 1855.6 682.6 1853C694.2 1850.4 705.2 1847.2 716.4 1844.3C727.7 1841.4 741.8 1837.7 750.3 1835.6C758.7 1833.5 761.5 1832.7 767.2 1831.6C772.8 1830.6 778.5 1830 784.1 1829.2C789.7 1828.4 792.5 1827.6 801 1826.9C809.5 1826.1 823.6 1825.1 834.8 1824.5C846.1 1823.8 855.1 1823.4 868.7 1822.9C882.2 1822.4 908.1 1821.6 916 1821.3M647.1 1866.5C650.2 1865.9 657 1864.7 665.7 1863.3C674.4 1861.8 689.7 1859.7 699.5 1857.7C709.4 1855.8 716.4 1853.3 724.9 1851.4C733.4 1849.6 741.8 1847.8 750.3 1846.7C758.7 1845.5 767.2 1844.3 775.6 1844.3C784.1 1844.3 794 1845.5 801 1846.7C808 1847.8 812.3 1849.6 817.9 1851.4C823.6 1853.3 829.2 1855.1 834.8 1857.7C840.5 1860.4 847.5 1865.2 851.7 1867.3C856 1869.3 855.1 1870.4 860.2 1870.1C865.3 1869.8 873.3 1868.4 882.6 1865.7C891.9 1863 906.2 1857 916 1853.8C925.9 1850.6 933.2 1848.6 941.8 1846.7C950.3 1844.7 957.3 1843 967.1 1841.9C977 1840.9 989.7 1840.3 1000.9 1840.3C1012.2 1840.3 1023.5 1841.1 1034.8 1841.9C1046 1842.7 1057.3 1843.9 1068.6 1845.1C1079.9 1846.3 1096.8 1848.4 1102.4 1849M647.1 1865.7C654.4 1864.9 678.1 1862.4 691.1 1860.9C704 1859.4 715 1857.1 724.9 1856.5C734.8 1855.8 740.4 1856.2 750.3 1857C760.1 1857.7 772.8 1859.2 784.1 1860.9C795.4 1862.6 808 1865 817.9 1867.3C827.8 1869.5 836.8 1872.5 843.3 1874.4C849.8 1876.2 853.1 1877.7 856.8 1878.3C860.5 1879 860.5 1879.4 865.3 1878.3C870.1 1877.3 877.1 1874.9 885.6 1872C894 1869.1 905.2 1864.6 916 1860.9C926.8 1857.2 938.9 1852.3 950.2 1849.8C961.6 1847.3 972.8 1846.6 984 1845.9C995.3 1845.1 1006.6 1844.9 1017.9 1845.4C1029.1 1845.9 1040.4 1847 1051.7 1849C1063 1851.1 1077.1 1855.5 1085.5 1857.7C1094 1860 1099.6 1861.7 1102.4 1862.5M647.1 1865.7C654.4 1865.3 678.1 1862.8 691.1 1863.3C704 1863.8 717.3 1867.1 724.9 1868.8C732.5 1870.6 731.1 1871.7 736.7 1873.6C742.4 1875.4 750.8 1878.1 758.7 1879.9C766.6 1881.8 777 1884 784.1 1884.7C791.1 1885.3 794 1884.8 801 1883.9C808 1883 819.3 1880.5 826.4 1879.1C833.4 1877.8 838.2 1875.8 843.3 1876C848.4 1876.1 853.1 1879 856.8 1879.9C860.5 1880.9 863.7 1881.4 865.7 1881.5C867.6 1881.6 865.3 1881.5 868.7 1880.7C872 1879.9 881.8 1877.7 885.6 1876.8C889.3 1875.8 885.9 1877 891 1875.2C896.1 1873.3 906.2 1868.7 916 1865.7C925.9 1862.6 938.9 1859.3 950.2 1857C961.5 1854.6 974.2 1852.5 984 1851.4C993.9 1850.4 1000.9 1850.4 1009.4 1850.6C1017.9 1850.9 1024.9 1851.5 1034.8 1853C1044.6 1854.4 1057.3 1856.4 1068.6 1859.3C1079.9 1862.2 1096.8 1868.6 1102.4 1870.4M258.7 1844C261.6 1844.5 270 1845.3 275.7 1847C281.3 1848.6 286.9 1851.4 292.6 1853.8C298.2 1856.2 303.8 1858.9 309.5 1861.2C315.1 1863.6 320.8 1865.8 326.4 1868C332 1870.3 337.7 1872.7 343.3 1874.9C348.9 1877 354.6 1878.5 360.2 1880.7C365.9 1882.9 371.5 1885.7 377.1 1888.2C382.8 1890.6 388.4 1893.2 394 1895.5C399.7 1897.7 405.9 1899.6 411 1901.8C416 1904 421.4 1907.2 424.5 1908.4C427.6 1909.7 428.6 1909.3 429.4 1909.5" stroke="#8a100c" stroke-width="5.9" fill="none" stroke-linejoin="round" stroke-linecap="butt" clip-path="url(#c5)"/>
<path d="M235.8 1400.4V1920.5" stroke="#2a8318" stroke-width="4.6" stroke-dasharray="9.3 8.95" stroke-dashoffset="2" fill="none"/>
<path d="M434.5 1400.4V1920.5" stroke="#2a8318" stroke-width="4.6" stroke-dasharray="9.3 8.95" stroke-dashoffset="2" fill="none"/>
<path d="M656.8 1400.4V1920.5" stroke="#2a8318" stroke-width="4.6" stroke-dasharray="9.3 8.95" stroke-dashoffset="2" fill="none"/>
<path d="M864 1400.4V1920.5" stroke="#2a8318" stroke-width="4.6" stroke-dasharray="9.3 8.95" stroke-dashoffset="2" fill="none"/>
<path d="M107.6 1397.4H1108.6M107.6 1923.5H1108.6" fill="none" stroke="#000" stroke-width="6"/>
<path d="M110.6 1397.4V1923.5M1105.6 1397.4V1923.5" fill="none" stroke="#000" stroke-width="6"/>
<path d="M101 1909.5H107.6M101 1845.5H107.6M101 1781.5H107.6M101 1717.5H107.6M101 1653.5H107.6M101 1589.5H107.6M101 1525.5H107.6M101 1461.5H107.6M101 1397.5H107.6" stroke="#000" stroke-width="6" fill="none"/>
<path d="M105.1 1877.5H107.6M105.1 1813.5H107.6M105.1 1749.5H107.6M105.1 1685.5H107.6M105.1 1621.5H107.6M105.1 1557.5H107.6M105.1 1493.5H107.6M105.1 1429.5H107.6" stroke="#000" stroke-width="4" fill="none"/>
<path d="M106.6 1909.5H118.6" stroke="#2a8318" stroke-width="4.6" fill="none"/>
<text transform="translate(93.8 1919.1) scale(1.200 1.000)" font-family="'Liberation Serif', 'DejaVu Serif', serif" font-size="31.5" font-weight="bold" text-anchor="end" fill="#000">0</text>
<text transform="translate(93.8 1855.1) scale(1.200 1.000)" font-family="'Liberation Serif', 'DejaVu Serif', serif" font-size="31.5" font-weight="bold" text-anchor="end" fill="#000">1</text>
<text transform="translate(93.8 1791.1) scale(1.200 1.000)" font-family="'Liberation Serif', 'DejaVu Serif', serif" font-size="31.5" font-weight="bold" text-anchor="end" fill="#000">2</text>
<text transform="translate(93.8 1727.1) scale(1.200 1.000)" font-family="'Liberation Serif', 'DejaVu Serif', serif" font-size="31.5" font-weight="bold" text-anchor="end" fill="#000">3</text>
<text transform="translate(93.8 1663.1) scale(1.200 1.000)" font-family="'Liberation Serif', 'DejaVu Serif', serif" font-size="31.5" font-weight="bold" text-anchor="end" fill="#000">4</text>
<text transform="translate(93.8 1599.1) scale(1.200 1.000)" font-family="'Liberation Serif', 'DejaVu Serif', serif" font-size="31.5" font-weight="bold" text-anchor="end" fill="#000">5</text>
<text transform="translate(93.8 1535.1) scale(1.200 1.000)" font-family="'Liberation Serif', 'DejaVu Serif', serif" font-size="31.5" font-weight="bold" text-anchor="end" fill="#000">6</text>
<text transform="translate(93.8 1471.1) scale(1.200 1.000)" font-family="'Liberation Serif', 'DejaVu Serif', serif" font-size="31.5" font-weight="bold" text-anchor="end" fill="#000">7</text>
<text transform="translate(93.8 1407.1) scale(1.200 1.000)" font-family="'Liberation Serif', 'DejaVu Serif', serif" font-size="31.5" font-weight="bold" text-anchor="end" fill="#000">8</text>
<text id="ylab5" transform="translate(49.8 1787.5) rotate(-90) scale(0.8538 1.0000)" font-family="'Liberation Serif', 'DejaVu Serif', serif" font-size="46.2" font-weight="bold" fill="#000">Frequency (THz)</text>
<text transform="translate(108.8 1957) scale(1.060 1.000)" font-family="'Liberation Serif', 'DejaVu Serif', serif" font-size="39.6" font-weight="bold" text-anchor="middle" fill="#000">W</text>
<text transform="translate(237.5 1956.5) scale(1.080 1.000)" font-family="'Liberation Serif', 'DejaVu Serif', serif" font-size="39.6" font-weight="bold" text-anchor="middle" fill="#000">L</text>
<text transform="translate(433.5 1956) scale(1.080 1.000)" font-family="'Liberation Serif', 'DejaVu Serif', serif" font-size="39.6" font-weight="bold" text-anchor="middle" fill="#000">G</text>
<text transform="translate(662.5 1960) scale(1.060 1.000)" font-family="'Liberation Serif', 'DejaVu Serif', serif" font-size="39.6" font-weight="bold" text-anchor="middle" fill="#000">X</text>
<text transform="translate(869.4 1956) scale(1.050 1.000)" font-family="'Liberation Serif', 'DejaVu Serif', serif" font-size="39.6" font-weight="bold" text-anchor="middle" fill="#000">W</text>
<text transform="translate(1100.6 1961) scale(1.020 1.000)" font-family="'Liberation Serif', 'DejaVu Serif', serif" font-size="39.6" font-weight="bold" text-anchor="middle" fill="#000">K</text>
<text id="kp5" transform="translate(536 1996) scale(1.2110 1.0000)" font-family="'Liberation Serif', 'DejaVu Serif', serif" font-size="40" font-weight="bold" font-style="italic" fill="#000">k-points</text>
<text id="ta5" transform="translate(488.7 1379.3) scale(1.1453 1.0000)" font-family="'Liberation Sans', 'DejaVu Sans', sans-serif" font-size="30" font-weight="bold" fill="#000">(c)</text>
<text id="tf5" transform="translate(538.4 1382.4) scale(1.1636 1.0000)" font-family="'Liberation Serif', 'DejaVu Serif', serif" font-size="30.5" font-weight="bold" fill="#000">Rb<tspan font-size="21" dy="8.1">2</tspan><tspan font-size="30.5" dy="-8.1">LiBiI</tspan><tspan font-size="21" dy="8.1">6</tspan></text>
<path d="M1221.6 1910.6L1280.7 1910.2L1283.1 1878.2L1285.9 1847.6L1287.2 1733L1288.5 1620.1L1289.4 1521.4L1291.7 1620.1L1294.3 1684.6L1296.2 1733L1297.9 1781.4L1299.5 1813.7L1300.8 1852.4L1303.6 1833L1304.4 1829.8L1308.5 1829.8L1309.8 1837.9L1311 1813.7L1312.1 1781.4L1313.4 1760.4L1316.7 1781.4L1319.2 1797.6L1321.6 1812.1L1325.2 1805.6L1326.5 1813.7L1328.2 1837.9L1329.8 1858.9L1332.6 1871.8L1336.3 1879.8L1341.7 1886L1346.2 1881.4L1347.3 1862.1L1348.9 1836.3L1353.5 1846L1358.4 1837.9L1362.5 1828.2L1365.5 1821.8L1367.4 1846L1369.1 1862.1L1372.3 1878.2L1376.4 1892.7L1381.3 1905.6L1387.9 1906.9L1396.1 1907.6L1404.3 1906.4L1410.8 1903.2L1419 1896L1427.2 1884.7L1433.7 1873.4L1438.6 1866.9L1441.1 1853.2L1445.2 1858.9L1449.3 1850.8L1454.2 1846L1456.6 1829.8L1459.1 1805.6L1461.5 1782.2L1463.2 1829.8L1464.5 1862.1L1465.6 1907.3L1468.1 1896.8L1472.2 1891.1L1477.9 1878.2L1482.8 1862.1L1488.5 1837.9L1493.5 1824.2L1495.1 1781.4L1497.5 1700.8L1499.5 1620.1L1501.5 1464.3L1503.8 1620.1L1504.9 1700.8L1505.7 1781.4L1506.2 1856.4L1509.5 1860.5L1513.6 1850.8L1517.2 1865.3L1520.8 1881.4L1525.4 1881.4L1528.4 1894.3L1530.8 1897.6L1535.7 1904.8L1540.6 1910.2L1665 1910.2L1666.2 1862.1L1667.5 1781.4L1668.6 1700.8L1669.3 1620.1L1669.8 1558.3L1671.9 1620.1L1673.2 1700.8L1674 1781.4L1674.5 1833L1676.8 1842.7L1678.1 1849.2L1679.7 1868.5L1681.4 1892.7L1686 1893.5L1689.6 1884.7L1693.2 1879.8L1698.1 1876.6L1701.5 1891.1L1705.9 1881.4L1709.2 1866.9L1710.8 1846L1712.5 1813.7L1714.1 1795.1L1715.7 1829.8L1717.1 1878.2L1717.7 1901.6L1721.5 1894.3L1725.6 1884.7L1730.5 1876.6L1733.8 1857.2L1737.8 1876.6L1741.9 1903.2L1744.3 1862.1L1748.9 1862.1L1751.4 1866.9L1756.3 1886.3L1760.4 1892.7L1766.1 1902.4L1775.1 1910.2L1924.8 1910.2L1930.2 1902.4L1931.1 1878.2L1932.2 1813.7L1933.4 1773.4L1934.7 1770.9L1939.1 1771.4L1940.4 1797.6L1942 1835.5L1943.7 1813.7L1946.1 1795.9L1949.9 1804L1951.9 1808.8L1953.2 1846L1954.3 1886.3L1955.1 1910.2L1981.9 1910.6" stroke="#8a100c" stroke-width="6" fill="none" stroke-linejoin="round" stroke-linecap="butt"/>
<path d="M1218.1 1412.5H1983.4M1218.1 1917.2H1983.4" fill="none" stroke="#000" stroke-width="5.8"/>
<path d="M1220.6 1412.5V1917.2M1980.9 1412.5V1917.2" fill="none" stroke="#000" stroke-width="5"/>
<path d="M1212.1 1910.6H1218.1M1212.1 1848.3H1218.1M1212.1 1786H1218.1M1212.1 1723.6H1218.1M1212.1 1661.3H1218.1M1212.1 1599H1218.1M1212.1 1536.7H1218.1M1212.1 1474.4H1218.1M1212.1 1412H1218.1" stroke="#000" stroke-width="6" fill="none"/>
<path d="M1215.6 1879.4H1217.6M1215.6 1817.1H1217.6M1215.6 1754.8H1217.6M1215.6 1692.5H1217.6M1215.6 1630.2H1217.6M1215.6 1567.8H1217.6M1215.6 1505.5H1217.6M1215.6 1443.2H1217.6" stroke="#000" stroke-width="4" fill="none"/>
<path d="M1278.6 1920.1V1925.7M1395.6 1920.1V1925.7M1512.5 1920.1V1925.7M1629.5 1920.1V1925.7M1746.5 1920.1V1925.7M1863.4 1920.1V1925.7M1980.4 1920.1V1925.7" stroke="#000" stroke-width="4.8" fill="none"/>
<path d="M1337.1 1920.2V1922.7M1454.1 1920.2V1922.7M1571 1920.2V1922.7M1688 1920.2V1922.7M1805 1920.2V1922.7M1921.9 1920.2V1922.7" stroke="#000" stroke-width="4" fill="none"/>
<text transform="translate(1207.1 1921.3) scale(0.940 1.000)" font-family="'Liberation Serif', 'DejaVu Serif', serif" font-size="34.7" font-weight="bold" text-anchor="end" fill="#000">0</text>
<text transform="translate(1207.1 1859) scale(0.940 1.000)" font-family="'Liberation Serif', 'DejaVu Serif', serif" font-size="34.7" font-weight="bold" text-anchor="end" fill="#000">10</text>
<text transform="translate(1207.1 1796.7) scale(0.940 1.000)" font-family="'Liberation Serif', 'DejaVu Serif', serif" font-size="34.7" font-weight="bold" text-anchor="end" fill="#000">20</text>
<text transform="translate(1207.1 1734.4) scale(0.940 1.000)" font-family="'Liberation Serif', 'DejaVu Serif', serif" font-size="34.7" font-weight="bold" text-anchor="end" fill="#000">30</text>
<text transform="translate(1207.1 1672) scale(0.940 1.000)" font-family="'Liberation Serif', 'DejaVu Serif', serif" font-size="34.7" font-weight="bold" text-anchor="end" fill="#000">40</text>
<text transform="translate(1207.1 1609.7) scale(0.940 1.000)" font-family="'Liberation Serif', 'DejaVu Serif', serif" font-size="34.7" font-weight="bold" text-anchor="end" fill="#000">50</text>
<text transform="translate(1207.1 1547.4) scale(0.940 1.000)" font-family="'Liberation Serif', 'DejaVu Serif', serif" font-size="34.7" font-weight="bold" text-anchor="end" fill="#000">60</text>
<text transform="translate(1207.1 1485.1) scale(0.940 1.000)" font-family="'Liberation Serif', 'DejaVu Serif', serif" font-size="34.7" font-weight="bold" text-anchor="end" fill="#000">70</text>
<text transform="translate(1207.1 1422.8) scale(0.940 1.000)" font-family="'Liberation Serif', 'DejaVu Serif', serif" font-size="34.7" font-weight="bold" text-anchor="end" fill="#000">80</text>
<text transform="translate(1278.6 1957.1) scale(0.900 1.000)" font-family="'Liberation Serif', 'DejaVu Serif', serif" font-size="35" font-weight="bold" text-anchor="middle" fill="#000">0</text>
<text transform="translate(1395.6 1957.1) scale(0.900 1.000)" font-family="'Liberation Serif', 'DejaVu Serif', serif" font-size="35" font-weight="bold" text-anchor="middle" fill="#000">1</text>
<text transform="translate(1512.5 1957.1) scale(0.900 1.000)" font-family="'Liberation Serif', 'DejaVu Serif', serif" font-size="35" font-weight="bold" text-anchor="middle" fill="#000">2</text>
<text transform="translate(1629.5 1957.1) scale(0.900 1.000)" font-family="'Liberation Serif', 'DejaVu Serif', serif" font-size="35" font-weight="bold" text-anchor="middle" fill="#000">3</text>
<text transform="translate(1746.5 1957.1) scale(0.900 1.000)" font-family="'Liberation Serif', 'DejaVu Serif', serif" font-size="35" font-weight="bold" text-anchor="middle" fill="#000">4</text>
<text transform="translate(1863.4 1957.1) scale(0.900 1.000)" font-family="'Liberation Serif', 'DejaVu Serif', serif" font-size="35" font-weight="bold" text-anchor="middle" fill="#000">5</text>
<text transform="translate(1980.4 1957.1) scale(0.900 1.000)" font-family="'Liberation Serif', 'DejaVu Serif', serif" font-size="35" font-weight="bold" text-anchor="middle" fill="#000">6</text>
<text id="ylab6" transform="translate(1152.8 1832) rotate(-90) scale(1.1853 1.0000)" font-family="'Liberation Serif', 'DejaVu Serif', serif" font-size="28.3" font-weight="bold" fill="#000">Phonon DOS (1/THz)</text>
<text id="xlab6" transform="translate(1516.2 1992) scale(0.9283 1.0000)" font-family="'Liberation Serif', 'DejaVu Serif', serif" font-size="34.3" font-weight="bold" fill="#000">Frequency (THz)</text>
<text id="ta6" transform="translate(1497.5 1392.5) scale(0.8590 1.0000)" font-family="'Liberation Sans', 'DejaVu Sans', sans-serif" font-size="30" font-weight="bold" fill="#000">(c)</text>
<text id="tf6" transform="translate(1535 1395) scale(0.9315 1.0000)" font-family="'Liberation Serif', 'DejaVu Serif', serif" font-size="36.9" font-weight="bold" fill="#000">Rb<tspan font-size="24.4" dy="8.1">2</tspan><tspan font-size="36.9" dy="-8.1">LiBiI</tspan><tspan font-size="24.4" dy="8.1">6</tspan></text>
</svg>
</body></html>
